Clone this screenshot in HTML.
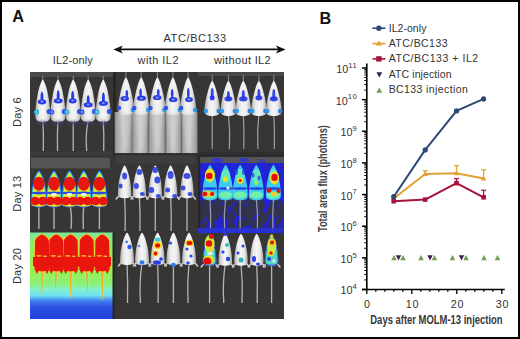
<!DOCTYPE html>
<html><head><meta charset="utf-8"><style>
html,body{margin:0;padding:0;width:520px;height:339px;overflow:hidden;background:#fff}
svg{display:block}
text{font-family:"Liberation Sans", sans-serif}
</style></head><body>
<svg width="520" height="339" viewBox="0 0 520 339">
<rect x="0" y="0" width="520" height="339" fill="#000"/>
<rect x="2" y="2" width="516" height="335" fill="#fff"/>
<text x="12.3" y="22.3" font-size="16.3" font-weight="bold" fill="#111">A</text>
<text x="319.6" y="24" font-size="16.3" font-weight="bold" fill="#111">B</text>
<text x="52.7" y="64" font-size="11" fill="#333" letter-spacing="0.15">IL2-only</text>
<text x="163.5" y="42" font-size="11" fill="#333" letter-spacing="0.6">ATC/BC133</text>
<text x="137.5" y="64.4" font-size="11" fill="#333" letter-spacing="0.45">with IL2</text>
<text x="214" y="64.4" font-size="11" fill="#333" letter-spacing="0.35">without IL2</text>
<line x1="118" y1="49.4" x2="281" y2="49.4" stroke="#111" stroke-width="1.8"/>
<path d="M113.3,49.4 L122.8,45.6 L120.5,49.4 L122.8,53.4 Z" fill="#111"/>
<path d="M285.6,49.4 L276,45.6 L278.3,49.4 L276,53.4 Z" fill="#111"/>
<text transform="translate(21.3,112) rotate(-90)" text-anchor="middle" font-size="11" fill="#333" letter-spacing="0.2">Day 6</text>
<text transform="translate(21.3,193.7) rotate(-90)" text-anchor="middle" font-size="11" fill="#333" letter-spacing="0.2">Day 13</text>
<text transform="translate(21.3,266) rotate(-90)" text-anchor="middle" font-size="11" fill="#333" letter-spacing="0.2">Day 20</text>
<defs><filter id="bl1" x="-50%" y="-50%" width="200%" height="200%"><feGaussianBlur stdDeviation="0.7"/></filter><filter id="bl2" x="-50%" y="-50%" width="200%" height="200%"><feGaussianBlur stdDeviation="1.4"/></filter><filter id="bl3" x="-50%" y="-50%" width="200%" height="200%"><feGaussianBlur stdDeviation="2.5"/></filter><linearGradient id="mouseg" x1="0" y1="0" x2="1" y2="0"><stop offset="0" stop-color="#a8a8a8"/><stop offset="0.25" stop-color="#e6e6e6"/><stop offset="0.5" stop-color="#f6f6f6"/><stop offset="0.75" stop-color="#e6e6e6"/><stop offset="1" stop-color="#a8a8a8"/></linearGradient><linearGradient id="p7bg" x1="0" y1="0" x2="0" y2="1"><stop offset="0" stop-color="#78e8a0"/><stop offset="0.12" stop-color="#88ec70"/><stop offset="0.45" stop-color="#98f050"/><stop offset="0.6" stop-color="#88f078"/><stop offset="0.66" stop-color="#80f0d0"/><stop offset="0.73" stop-color="#70e0f0"/><stop offset="0.79" stop-color="#4080f0"/><stop offset="0.86" stop-color="#2c50e0"/><stop offset="1" stop-color="#2040d8"/></linearGradient><linearGradient id="greyband" x1="0" y1="0" x2="1" y2="0"><stop offset="0" stop-color="#7a7a7a"/><stop offset="0.12" stop-color="#a4a4a4"/><stop offset="0.5" stop-color="#c6c6c6"/><stop offset="0.88" stop-color="#a4a4a4"/><stop offset="1" stop-color="#7a7a7a"/></linearGradient><clipPath id="gridclip"><rect x="30" y="72" width="254" height="247"/></clipPath><filter id="soft" x="0" y="0" width="100%" height="100%"><feGaussianBlur stdDeviation="0.35"/></filter></defs>
<g clip-path="url(#gridclip)"><g filter="url(#soft)">
<rect x="30" y="72" width="254" height="247" fill="#373636"/>
<rect x="30" y="72" width="83" height="5" fill="#4a4a4a"/>
<rect x="30" y="151.5" width="83" height="4" fill="#3a3a3a"/>
<line x1="42.8" y1="76" x2="42.8" y2="81" stroke="#8a8a8a" stroke-width="1"/>
<line x1="58.0" y1="76" x2="58.0" y2="81" stroke="#8a8a8a" stroke-width="1"/>
<line x1="73.2" y1="76" x2="73.2" y2="81" stroke="#8a8a8a" stroke-width="1"/>
<line x1="88.2" y1="76" x2="88.2" y2="81" stroke="#8a8a8a" stroke-width="1"/>
<line x1="103.2" y1="76" x2="103.2" y2="81" stroke="#8a8a8a" stroke-width="1"/>
<path d="M42.8,119.8 Q43.8,135.4 43.3,151.0" stroke="#b4b4b4" stroke-width="1.3" fill="none" opacity="1"/>
<path d="M58.0,119.8 Q57.0,135.4 57.5,151.0" stroke="#b4b4b4" stroke-width="1.3" fill="none" opacity="1"/>
<path d="M73.2,119.8 Q73.2,135.4 73.2,151.0" stroke="#b4b4b4" stroke-width="1.3" fill="none" opacity="1"/>
<path d="M88.2,119.8 Q85.2,135.4 86.7,151.0" stroke="#b4b4b4" stroke-width="1.3" fill="none" opacity="1"/>
<path d="M103.2,119.8 Q104.2,135.4 103.7,151.0" stroke="#b4b4b4" stroke-width="1.3" fill="none" opacity="1"/>
<path d="M42.3,80.0 Q42.8,79.3 43.3,80.0 Q43.8,80.8 44.4,82.2 Q45.1,83.5 45.8,85.7 Q46.5,87.8 47.1,90.3 Q47.7,92.9 48.2,95.9 Q48.8,98.8 49.2,101.8 Q49.6,104.8 49.9,107.3 Q50.2,109.9 50.3,112.0 Q50.4,114.2 50.3,115.8 Q50.2,117.5 49.8,118.7 Q49.3,119.9 48.2,120.7 Q47.0,121.6 44.9,121.7 Q42.8,121.8 40.7,121.7 Q38.6,121.6 37.4,120.7 Q36.3,119.9 35.8,118.7 Q35.4,117.5 35.3,115.8 Q35.2,114.2 35.3,112.0 Q35.4,109.9 35.7,107.3 Q36.0,104.8 36.4,101.8 Q36.8,98.8 37.4,95.9 Q37.9,92.9 38.5,90.3 Q39.1,87.8 39.8,85.7 Q40.5,83.5 41.2,82.2 Q41.8,80.8 42.3,80.0Z" fill="url(#mouseg)"/>
<path d="M57.5,80.0 Q58.0,79.3 58.5,80.0 Q59.0,80.8 59.6,82.2 Q60.3,83.5 61.0,85.7 Q61.7,87.8 62.3,90.3 Q62.9,92.9 63.4,95.9 Q64.0,98.8 64.4,101.8 Q64.8,104.8 65.1,107.3 Q65.4,109.9 65.5,112.0 Q65.6,114.2 65.5,115.8 Q65.4,117.5 65.0,118.7 Q64.5,119.9 63.4,120.7 Q62.2,121.6 60.1,121.7 Q58.0,121.8 55.9,121.7 Q53.8,121.6 52.6,120.7 Q51.5,119.9 51.0,118.7 Q50.6,117.5 50.5,115.8 Q50.4,114.2 50.5,112.0 Q50.6,109.9 50.9,107.3 Q51.2,104.8 51.6,101.8 Q52.0,98.8 52.6,95.9 Q53.1,92.9 53.7,90.3 Q54.3,87.8 55.0,85.7 Q55.7,83.5 56.4,82.2 Q57.0,80.8 57.5,80.0Z" fill="url(#mouseg)"/>
<path d="M72.7,80.0 Q73.2,79.3 73.7,80.0 Q74.2,80.8 74.8,82.2 Q75.5,83.5 76.2,85.7 Q76.9,87.8 77.5,90.3 Q78.1,92.9 78.6,95.9 Q79.2,98.8 79.6,101.8 Q80.0,104.8 80.3,107.3 Q80.6,109.9 80.7,112.0 Q80.8,114.2 80.7,115.8 Q80.6,117.5 80.2,118.7 Q79.7,119.9 78.6,120.7 Q77.4,121.6 75.3,121.7 Q73.2,121.8 71.1,121.7 Q69.0,121.6 67.8,120.7 Q66.7,119.9 66.2,118.7 Q65.8,117.5 65.7,115.8 Q65.6,114.2 65.7,112.0 Q65.8,109.9 66.1,107.3 Q66.4,104.8 66.8,101.8 Q67.2,98.8 67.8,95.9 Q68.3,92.9 68.9,90.3 Q69.5,87.8 70.2,85.7 Q70.9,83.5 71.6,82.2 Q72.2,80.8 72.7,80.0Z" fill="url(#mouseg)"/>
<path d="M87.7,80.0 Q88.2,79.3 88.7,80.0 Q89.2,80.8 89.8,82.2 Q90.5,83.5 91.2,85.7 Q91.9,87.8 92.5,90.3 Q93.1,92.9 93.6,95.9 Q94.2,98.8 94.6,101.8 Q95.0,104.8 95.3,107.3 Q95.6,109.9 95.7,112.0 Q95.8,114.2 95.7,115.8 Q95.6,117.5 95.2,118.7 Q94.7,119.9 93.6,120.7 Q92.4,121.6 90.3,121.7 Q88.2,121.8 86.1,121.7 Q84.0,121.6 82.8,120.7 Q81.7,119.9 81.2,118.7 Q80.8,117.5 80.7,115.8 Q80.6,114.2 80.7,112.0 Q80.8,109.9 81.1,107.3 Q81.4,104.8 81.8,101.8 Q82.2,98.8 82.8,95.9 Q83.3,92.9 83.9,90.3 Q84.5,87.8 85.2,85.7 Q85.9,83.5 86.6,82.2 Q87.2,80.8 87.7,80.0Z" fill="url(#mouseg)"/>
<path d="M102.7,80.0 Q103.2,79.3 103.7,80.0 Q104.2,80.8 104.8,82.2 Q105.5,83.5 106.2,85.7 Q106.9,87.8 107.5,90.3 Q108.1,92.9 108.6,95.9 Q109.2,98.8 109.6,101.8 Q110.0,104.8 110.3,107.3 Q110.6,109.9 110.7,112.0 Q110.8,114.2 110.7,115.8 Q110.6,117.5 110.2,118.7 Q109.7,119.9 108.6,120.7 Q107.4,121.6 105.3,121.7 Q103.2,121.8 101.1,121.7 Q99.0,121.6 97.8,120.7 Q96.7,119.9 96.2,118.7 Q95.8,117.5 95.7,115.8 Q95.6,114.2 95.7,112.0 Q95.8,109.9 96.1,107.3 Q96.4,104.8 96.8,101.8 Q97.2,98.8 97.8,95.9 Q98.3,92.9 98.9,90.3 Q99.5,87.8 100.2,85.7 Q100.9,83.5 101.6,82.2 Q102.2,80.8 102.7,80.0Z" fill="url(#mouseg)"/>
<ellipse cx="42.0" cy="97.2" rx="1.5" ry="5.75" fill="#2236e4" opacity="0.95" filter="url(#bl1)"/>
<ellipse cx="42.0" cy="101.8" rx="4.25" ry="2.6" fill="#2236e4" opacity="0.95" filter="url(#bl1)"/>
<ellipse cx="42.0" cy="101.6" rx="1.4" ry="1.0" fill="#9ab8f0" opacity="0.8" filter="url(#bl1)"/>
<ellipse cx="36.5" cy="112.0" rx="2.6" ry="2.6" fill="#28b0d8" opacity="0.95" filter="url(#bl1)"/>
<ellipse cx="49.1" cy="111.5" rx="2.6" ry="2.6" fill="#2a4ee8" opacity="0.95" filter="url(#bl1)"/>
<ellipse cx="36.5" cy="112.0" rx="1.0" ry="1.0" fill="#a0d8f0" opacity="0.8" filter="url(#bl1)"/>
<ellipse cx="42.8" cy="123.0" rx="6" ry="2.2" fill="#404070" opacity="0.6" filter="url(#bl2)"/>
<ellipse cx="58.2" cy="96.0" rx="1.5" ry="6.0" fill="#2236e4" opacity="0.95" filter="url(#bl1)"/>
<ellipse cx="58.2" cy="100.8" rx="4.5" ry="2.6" fill="#2236e4" opacity="0.95" filter="url(#bl1)"/>
<ellipse cx="58.2" cy="100.6" rx="1.4" ry="1.0" fill="#9ab8f0" opacity="0.8" filter="url(#bl1)"/>
<ellipse cx="51.7" cy="112.0" rx="2.6" ry="2.6" fill="#2a4ee8" opacity="0.95" filter="url(#bl1)"/>
<ellipse cx="64.3" cy="111.5" rx="2.6" ry="2.6" fill="#2a4ee8" opacity="0.95" filter="url(#bl1)"/>
<ellipse cx="51.7" cy="112.0" rx="1.0" ry="1.0" fill="#a0d8f0" opacity="0.8" filter="url(#bl1)"/>
<ellipse cx="58.0" cy="123.0" rx="6" ry="2.2" fill="#404070" opacity="0.6" filter="url(#bl2)"/>
<ellipse cx="72.7" cy="96.3" rx="1.5" ry="5.649999999999999" fill="#2236e4" opacity="0.95" filter="url(#bl1)"/>
<ellipse cx="72.7" cy="100.8" rx="4.0" ry="2.6" fill="#2236e4" opacity="0.95" filter="url(#bl1)"/>
<ellipse cx="72.7" cy="100.6" rx="1.4" ry="1.0" fill="#9ab8f0" opacity="0.8" filter="url(#bl1)"/>
<ellipse cx="66.9" cy="112.0" rx="2.6" ry="2.6" fill="#28b0d8" opacity="0.95" filter="url(#bl1)"/>
<ellipse cx="79.5" cy="111.5" rx="2.6" ry="2.6" fill="#2a4ee8" opacity="0.95" filter="url(#bl1)"/>
<ellipse cx="66.9" cy="112.0" rx="1.0" ry="1.0" fill="#a0d8f0" opacity="0.8" filter="url(#bl1)"/>
<ellipse cx="73.2" cy="123.0" rx="6" ry="2.2" fill="#404070" opacity="0.6" filter="url(#bl2)"/>
<ellipse cx="88.2" cy="100.7" rx="1.5" ry="5.350000000000001" fill="#2236e4" opacity="0.95" filter="url(#bl1)"/>
<ellipse cx="88.2" cy="104.8" rx="4.5" ry="2.6" fill="#2236e4" opacity="0.95" filter="url(#bl1)"/>
<ellipse cx="88.2" cy="104.6" rx="1.4" ry="1.0" fill="#9ab8f0" opacity="0.8" filter="url(#bl1)"/>
<ellipse cx="81.9" cy="112.0" rx="2.6" ry="2.6" fill="#2a4ee8" opacity="0.95" filter="url(#bl1)"/>
<ellipse cx="94.5" cy="111.5" rx="2.6" ry="2.6" fill="#2a4ee8" opacity="0.95" filter="url(#bl1)"/>
<ellipse cx="81.9" cy="112.0" rx="1.0" ry="1.0" fill="#a0d8f0" opacity="0.8" filter="url(#bl1)"/>
<ellipse cx="88.2" cy="123.0" rx="6" ry="2.2" fill="#404070" opacity="0.6" filter="url(#bl2)"/>
<ellipse cx="103.4" cy="98.3" rx="1.5" ry="6.149999999999999" fill="#2236e4" opacity="0.95" filter="url(#bl1)"/>
<ellipse cx="103.4" cy="103.3" rx="4.5" ry="2.6" fill="#2236e4" opacity="0.95" filter="url(#bl1)"/>
<ellipse cx="103.4" cy="103.1" rx="1.4" ry="1.0" fill="#9ab8f0" opacity="0.8" filter="url(#bl1)"/>
<ellipse cx="96.9" cy="112.0" rx="2.6" ry="2.6" fill="#28b0d8" opacity="0.95" filter="url(#bl1)"/>
<ellipse cx="109.5" cy="111.5" rx="2.6" ry="2.6" fill="#2a4ee8" opacity="0.95" filter="url(#bl1)"/>
<ellipse cx="96.9" cy="112.0" rx="1.0" ry="1.0" fill="#a0d8f0" opacity="0.8" filter="url(#bl1)"/>
<ellipse cx="103.2" cy="123.0" rx="6" ry="2.2" fill="#404070" opacity="0.6" filter="url(#bl2)"/>
<rect x="113" y="72" width="3" height="83" fill="#252525"/>
<line x1="125.9" y1="72" x2="125.9" y2="78" stroke="#8a8a8a" stroke-width="1"/>
<line x1="141.2" y1="72" x2="141.2" y2="78" stroke="#8a8a8a" stroke-width="1"/>
<line x1="157.4" y1="72" x2="157.4" y2="78" stroke="#8a8a8a" stroke-width="1"/>
<line x1="172.9" y1="72" x2="172.9" y2="78" stroke="#8a8a8a" stroke-width="1"/>
<line x1="188.1" y1="72" x2="188.1" y2="78" stroke="#8a8a8a" stroke-width="1"/>
<rect x="114.5" y="112" width="17.5" height="41.3" fill="url(#greyband)"/>
<rect x="132.0" y="112" width="16.4" height="41.3" fill="url(#greyband)"/>
<rect x="148.4" y="112" width="16.9" height="41.3" fill="url(#greyband)"/>
<rect x="165.3" y="112" width="16.1" height="41.3" fill="url(#greyband)"/>
<rect x="181.4" y="112" width="16.2" height="41.3" fill="url(#greyband)"/>
<rect x="113" y="153.3" width="85" height="2" fill="#2a2a2a"/>
<path d="M125.4,77.8 Q125.9,77.0 126.4,77.8 Q126.9,78.5 127.4,79.7 Q128.0,80.8 128.6,82.7 Q129.3,84.6 129.9,86.9 Q130.5,89.2 131.2,91.8 Q131.8,94.5 132.3,97.1 Q132.9,99.8 133.2,102.1 Q133.6,104.4 133.7,106.3 Q133.9,108.2 133.8,109.7 Q133.7,111.2 133.2,112.2 Q132.8,113.3 131.5,114.0 Q130.3,114.8 128.1,114.9 Q125.9,115.0 123.7,114.9 Q121.5,114.8 120.3,114.0 Q119.0,113.3 118.6,112.2 Q118.1,111.2 118.0,109.7 Q117.9,108.2 118.1,106.3 Q118.2,104.4 118.6,102.1 Q118.9,99.8 119.5,97.1 Q120.0,94.5 120.6,91.8 Q121.3,89.2 121.9,86.9 Q122.5,84.6 123.2,82.7 Q123.8,80.8 124.4,79.7 Q124.9,78.5 125.4,77.8Z" fill="url(#mouseg)"/>
<path d="M140.7,77.8 Q141.2,77.0 141.7,77.8 Q142.2,78.5 142.7,79.7 Q143.3,80.8 143.9,82.7 Q144.6,84.6 145.2,86.9 Q145.8,89.2 146.5,91.8 Q147.1,94.5 147.6,97.1 Q148.2,99.8 148.5,102.1 Q148.9,104.4 149.0,106.3 Q149.2,108.2 149.1,109.7 Q149.0,111.2 148.5,112.2 Q148.1,113.3 146.8,114.0 Q145.6,114.8 143.4,114.9 Q141.2,115.0 139.0,114.9 Q136.8,114.8 135.6,114.0 Q134.3,113.3 133.9,112.2 Q133.4,111.2 133.3,109.7 Q133.2,108.2 133.4,106.3 Q133.5,104.4 133.9,102.1 Q134.2,99.8 134.8,97.1 Q135.3,94.5 135.9,91.8 Q136.6,89.2 137.2,86.9 Q137.8,84.6 138.5,82.7 Q139.1,80.8 139.7,79.7 Q140.2,78.5 140.7,77.8Z" fill="url(#mouseg)"/>
<path d="M156.9,77.8 Q157.4,77.0 157.9,77.8 Q158.4,78.5 158.9,79.7 Q159.5,80.8 160.1,82.7 Q160.8,84.6 161.4,86.9 Q162.0,89.2 162.7,91.8 Q163.3,94.5 163.8,97.1 Q164.4,99.8 164.7,102.1 Q165.1,104.4 165.2,106.3 Q165.4,108.2 165.3,109.7 Q165.2,111.2 164.7,112.2 Q164.3,113.3 163.0,114.0 Q161.8,114.8 159.6,114.9 Q157.4,115.0 155.2,114.9 Q153.0,114.8 151.8,114.0 Q150.5,113.3 150.1,112.2 Q149.6,111.2 149.5,109.7 Q149.4,108.2 149.6,106.3 Q149.7,104.4 150.1,102.1 Q150.4,99.8 151.0,97.1 Q151.5,94.5 152.1,91.8 Q152.8,89.2 153.4,86.9 Q154.0,84.6 154.7,82.7 Q155.3,80.8 155.9,79.7 Q156.4,78.5 156.9,77.8Z" fill="url(#mouseg)"/>
<path d="M172.4,77.8 Q172.9,77.0 173.4,77.8 Q173.9,78.5 174.4,79.7 Q175.0,80.8 175.6,82.7 Q176.3,84.6 176.9,86.9 Q177.5,89.2 178.2,91.8 Q178.8,94.5 179.3,97.1 Q179.9,99.8 180.2,102.1 Q180.6,104.4 180.7,106.3 Q180.9,108.2 180.8,109.7 Q180.7,111.2 180.2,112.2 Q179.8,113.3 178.5,114.0 Q177.3,114.8 175.1,114.9 Q172.9,115.0 170.7,114.9 Q168.5,114.8 167.3,114.0 Q166.0,113.3 165.6,112.2 Q165.1,111.2 165.0,109.7 Q164.9,108.2 165.1,106.3 Q165.2,104.4 165.6,102.1 Q165.9,99.8 166.5,97.1 Q167.0,94.5 167.6,91.8 Q168.3,89.2 168.9,86.9 Q169.5,84.6 170.2,82.7 Q170.8,80.8 171.4,79.7 Q171.9,78.5 172.4,77.8Z" fill="url(#mouseg)"/>
<path d="M187.6,77.8 Q188.1,77.0 188.6,77.8 Q189.1,78.5 189.6,79.7 Q190.2,80.8 190.8,82.7 Q191.5,84.6 192.1,86.9 Q192.7,89.2 193.4,91.8 Q194.0,94.5 194.5,97.1 Q195.1,99.8 195.4,102.1 Q195.8,104.4 195.9,106.3 Q196.1,108.2 196.0,109.7 Q195.9,111.2 195.4,112.2 Q195.0,113.3 193.7,114.0 Q192.5,114.8 190.3,114.9 Q188.1,115.0 185.9,114.9 Q183.7,114.8 182.5,114.0 Q181.2,113.3 180.8,112.2 Q180.3,111.2 180.2,109.7 Q180.1,108.2 180.3,106.3 Q180.4,104.4 180.8,102.1 Q181.1,99.8 181.7,97.1 Q182.2,94.5 182.8,91.8 Q183.5,89.2 184.1,86.9 Q184.7,84.6 185.4,82.7 Q186.0,80.8 186.6,79.7 Q187.1,78.5 187.6,77.8Z" fill="url(#mouseg)"/>
<path d="M119.9,112 L131.9,112 L127.9,150 L123.9,150 Z" fill="#d8d8d8" opacity="0.5" filter="url(#bl2)"/>
<path d="M135.2,112 L147.2,112 L143.2,150 L139.2,150 Z" fill="#d8d8d8" opacity="0.5" filter="url(#bl2)"/>
<path d="M151.4,112 L163.4,112 L159.4,150 L155.4,150 Z" fill="#d8d8d8" opacity="0.5" filter="url(#bl2)"/>
<path d="M166.9,112 L178.9,112 L174.9,150 L170.9,150 Z" fill="#d8d8d8" opacity="0.5" filter="url(#bl2)"/>
<path d="M182.1,112 L194.1,112 L190.1,150 L186.1,150 Z" fill="#d8d8d8" opacity="0.5" filter="url(#bl2)"/>
<ellipse cx="126.8" cy="93.8" rx="1.3" ry="3.799999999999997" fill="#2236e4" opacity="0.95" filter="url(#bl1)"/>
<ellipse cx="124.8" cy="98.6" rx="4.2" ry="2.6" fill="#2236e4" opacity="0.95" filter="url(#bl1)"/>
<ellipse cx="124.8" cy="98.6" rx="1.6" ry="1.0" fill="#8ab0f0" opacity="0.8" filter="url(#bl1)"/>
<ellipse cx="140.6" cy="92.8" rx="1.3" ry="4.399999999999999" fill="#2236e4" opacity="0.95" filter="url(#bl1)"/>
<ellipse cx="141.4" cy="98.2" rx="4.5" ry="2.6" fill="#2236e4" opacity="0.95" filter="url(#bl1)"/>
<ellipse cx="141.4" cy="98.2" rx="1.6" ry="1.0" fill="#8ab0f0" opacity="0.8" filter="url(#bl1)"/>
<ellipse cx="158.3" cy="92.8" rx="1.3" ry="3.75" fill="#2236e4" opacity="0.95" filter="url(#bl1)"/>
<ellipse cx="157.2" cy="97.5" rx="4.25" ry="2.6" fill="#2236e4" opacity="0.95" filter="url(#bl1)"/>
<ellipse cx="157.2" cy="97.5" rx="1.6" ry="1.0" fill="#8ab0f0" opacity="0.8" filter="url(#bl1)"/>
<ellipse cx="172.2" cy="93.8" rx="1.3" ry="4.75" fill="#2236e4" opacity="0.95" filter="url(#bl1)"/>
<ellipse cx="173.2" cy="99.5" rx="4.25" ry="2.6" fill="#2236e4" opacity="0.95" filter="url(#bl1)"/>
<ellipse cx="173.2" cy="99.5" rx="1.6" ry="1.0" fill="#8ab0f0" opacity="0.8" filter="url(#bl1)"/>
<ellipse cx="188.3" cy="93.2" rx="1.3" ry="5.25" fill="#2236e4" opacity="0.95" filter="url(#bl1)"/>
<ellipse cx="189.0" cy="99.5" rx="3.85" ry="2.6" fill="#2236e4" opacity="0.95" filter="url(#bl1)"/>
<ellipse cx="189.0" cy="99.5" rx="1.6" ry="1.0" fill="#8ab0f0" opacity="0.8" filter="url(#bl1)"/>
<ellipse cx="118.9" cy="108.0" rx="2.3" ry="2.3" fill="#2a50e8" opacity="0.95" filter="url(#bl1)"/>
<ellipse cx="132.9" cy="110.0" rx="2.3" ry="2.3" fill="#2a9ae8" opacity="0.95" filter="url(#bl1)"/>
<ellipse cx="134.2" cy="108.0" rx="2.3" ry="2.3" fill="#2a50e8" opacity="0.95" filter="url(#bl1)"/>
<ellipse cx="148.2" cy="110.0" rx="2.3" ry="2.3" fill="#2a9ae8" opacity="0.95" filter="url(#bl1)"/>
<ellipse cx="150.4" cy="108.0" rx="2.3" ry="2.3" fill="#2a50e8" opacity="0.95" filter="url(#bl1)"/>
<ellipse cx="164.4" cy="110.0" rx="2.3" ry="2.3" fill="#2a9ae8" opacity="0.95" filter="url(#bl1)"/>
<ellipse cx="165.9" cy="108.0" rx="2.3" ry="2.3" fill="#2a50e8" opacity="0.95" filter="url(#bl1)"/>
<ellipse cx="179.9" cy="110.0" rx="2.3" ry="2.3" fill="#2a9ae8" opacity="0.95" filter="url(#bl1)"/>
<ellipse cx="181.1" cy="108.0" rx="2.3" ry="2.3" fill="#2a50e8" opacity="0.95" filter="url(#bl1)"/>
<ellipse cx="195.1" cy="110.0" rx="2.3" ry="2.3" fill="#2a9ae8" opacity="0.95" filter="url(#bl1)"/>
<rect x="198" y="72" width="86" height="4" fill="#484848"/>
<line x1="212.2" y1="75" x2="212.2" y2="81" stroke="#8a8a8a" stroke-width="1"/>
<line x1="228.4" y1="75" x2="228.4" y2="81" stroke="#8a8a8a" stroke-width="1"/>
<line x1="243.3" y1="75" x2="243.3" y2="81" stroke="#8a8a8a" stroke-width="1"/>
<line x1="258.9" y1="75" x2="258.9" y2="81" stroke="#8a8a8a" stroke-width="1"/>
<line x1="273.8" y1="75" x2="273.8" y2="81" stroke="#8a8a8a" stroke-width="1"/>
<path d="M212.2,114.0 Q212.2,131.5 212.2,149.0" stroke="#a0a0a0" stroke-width="1.2" fill="none" opacity="1"/>
<path d="M228.4,114.0 Q230.4,131.5 229.4,149.0" stroke="#a0a0a0" stroke-width="1.2" fill="none" opacity="1"/>
<path d="M243.3,114.0 Q244.3,131.5 243.8,149.0" stroke="#a0a0a0" stroke-width="1.2" fill="none" opacity="1"/>
<path d="M258.9,114.0 Q256.9,131.5 257.9,149.0" stroke="#a0a0a0" stroke-width="1.2" fill="none" opacity="1"/>
<path d="M273.8,114.0 Q274.8,131.5 274.3,149.0" stroke="#a0a0a0" stroke-width="1.2" fill="none" opacity="1"/>
<path d="M211.7,81.2 Q212.2,80.5 212.7,81.2 Q213.1,81.9 213.7,83.0 Q214.2,84.0 214.9,85.8 Q215.5,87.6 216.1,89.7 Q216.7,91.9 217.3,94.3 Q218.0,96.8 218.5,99.3 Q219.0,101.8 219.3,103.9 Q219.7,106.1 219.8,107.8 Q220.0,109.6 219.9,111.0 Q219.8,112.5 219.3,113.4 Q218.9,114.4 217.7,115.1 Q216.5,115.8 214.3,115.9 Q212.2,116.0 210.1,115.9 Q207.9,115.8 206.7,115.1 Q205.5,114.4 205.1,113.4 Q204.6,112.5 204.5,111.0 Q204.4,109.6 204.6,107.8 Q204.7,106.1 205.1,103.9 Q205.4,101.8 205.9,99.3 Q206.4,96.8 207.1,94.3 Q207.7,91.9 208.3,89.7 Q208.9,87.6 209.5,85.8 Q210.2,84.0 210.7,83.0 Q211.3,81.9 211.7,81.2Z" fill="url(#mouseg)"/>
<path d="M227.9,81.2 Q228.4,80.5 228.9,81.2 Q229.3,81.9 229.9,83.0 Q230.4,84.0 231.1,85.8 Q231.7,87.6 232.3,89.7 Q232.9,91.9 233.5,94.3 Q234.2,96.8 234.7,99.3 Q235.2,101.8 235.5,103.9 Q235.9,106.1 236.0,107.8 Q236.2,109.6 236.1,111.0 Q236.0,112.5 235.5,113.4 Q235.1,114.4 233.9,115.1 Q232.7,115.8 230.5,115.9 Q228.4,116.0 226.3,115.9 Q224.1,115.8 222.9,115.1 Q221.7,114.4 221.3,113.4 Q220.8,112.5 220.7,111.0 Q220.6,109.6 220.8,107.8 Q220.9,106.1 221.3,103.9 Q221.6,101.8 222.1,99.3 Q222.6,96.8 223.3,94.3 Q223.9,91.9 224.5,89.7 Q225.1,87.6 225.7,85.8 Q226.4,84.0 226.9,83.0 Q227.5,81.9 227.9,81.2Z" fill="url(#mouseg)"/>
<path d="M242.8,81.2 Q243.3,80.5 243.8,81.2 Q244.2,81.9 244.8,83.0 Q245.3,84.0 246.0,85.8 Q246.6,87.6 247.2,89.7 Q247.8,91.9 248.4,94.3 Q249.1,96.8 249.6,99.3 Q250.1,101.8 250.4,103.9 Q250.8,106.1 250.9,107.8 Q251.1,109.6 251.0,111.0 Q250.9,112.5 250.4,113.4 Q250.0,114.4 248.8,115.1 Q247.6,115.8 245.4,115.9 Q243.3,116.0 241.2,115.9 Q239.0,115.8 237.8,115.1 Q236.6,114.4 236.2,113.4 Q235.7,112.5 235.6,111.0 Q235.5,109.6 235.7,107.8 Q235.8,106.1 236.2,103.9 Q236.5,101.8 237.0,99.3 Q237.5,96.8 238.2,94.3 Q238.8,91.9 239.4,89.7 Q240.0,87.6 240.6,85.8 Q241.3,84.0 241.8,83.0 Q242.4,81.9 242.8,81.2Z" fill="url(#mouseg)"/>
<path d="M258.4,81.2 Q258.9,80.5 259.4,81.2 Q259.8,81.9 260.4,83.0 Q260.9,84.0 261.6,85.8 Q262.2,87.6 262.8,89.7 Q263.4,91.9 264.0,94.3 Q264.7,96.8 265.2,99.3 Q265.7,101.8 266.0,103.9 Q266.4,106.1 266.5,107.8 Q266.7,109.6 266.6,111.0 Q266.5,112.5 266.0,113.4 Q265.6,114.4 264.4,115.1 Q263.2,115.8 261.0,115.9 Q258.9,116.0 256.8,115.9 Q254.6,115.8 253.4,115.1 Q252.2,114.4 251.8,113.4 Q251.3,112.5 251.2,111.0 Q251.1,109.6 251.3,107.8 Q251.4,106.1 251.8,103.9 Q252.1,101.8 252.6,99.3 Q253.1,96.8 253.8,94.3 Q254.4,91.9 255.0,89.7 Q255.6,87.6 256.2,85.8 Q256.9,84.0 257.4,83.0 Q258.0,81.9 258.4,81.2Z" fill="url(#mouseg)"/>
<path d="M273.3,81.2 Q273.8,80.5 274.3,81.2 Q274.7,81.9 275.3,83.0 Q275.8,84.0 276.5,85.8 Q277.1,87.6 277.7,89.7 Q278.3,91.9 278.9,94.3 Q279.6,96.8 280.1,99.3 Q280.6,101.8 280.9,103.9 Q281.3,106.1 281.4,107.8 Q281.6,109.6 281.5,111.0 Q281.4,112.5 280.9,113.4 Q280.5,114.4 279.3,115.1 Q278.1,115.8 275.9,115.9 Q273.8,116.0 271.7,115.9 Q269.5,115.8 268.3,115.1 Q267.1,114.4 266.7,113.4 Q266.2,112.5 266.1,111.0 Q266.0,109.6 266.2,107.8 Q266.3,106.1 266.7,103.9 Q267.0,101.8 267.5,99.3 Q268.0,96.8 268.7,94.3 Q269.3,91.9 269.9,89.7 Q270.5,87.6 271.1,85.8 Q271.8,84.0 272.3,83.0 Q272.9,81.9 273.3,81.2Z" fill="url(#mouseg)"/>
<ellipse cx="212.2" cy="93.5" rx="1.5" ry="5.5" fill="#2236e4" opacity="0.9" filter="url(#bl1)"/>
<ellipse cx="212.2" cy="97.8" rx="2.5" ry="2.6" fill="#2236e4" opacity="0.9" filter="url(#bl1)"/>
<ellipse cx="205.7" cy="111.0" rx="2.3" ry="2.3" fill="#2a9ae8" opacity="0.95" filter="url(#bl1)"/>
<ellipse cx="218.7" cy="111.0" rx="2.3" ry="2.3" fill="#2a7ae8" opacity="0.95" filter="url(#bl1)"/>
<ellipse cx="228.4" cy="95.5" rx="1.5" ry="4.5" fill="#2236e4" opacity="0.9" filter="url(#bl1)"/>
<ellipse cx="228.4" cy="98.8" rx="4.0" ry="2.6" fill="#2236e4" opacity="0.9" filter="url(#bl1)"/>
<ellipse cx="221.9" cy="111.0" rx="2.3" ry="2.3" fill="#2a9ae8" opacity="0.95" filter="url(#bl1)"/>
<ellipse cx="234.9" cy="111.0" rx="2.3" ry="2.3" fill="#2a7ae8" opacity="0.95" filter="url(#bl1)"/>
<ellipse cx="243.3" cy="95.0" rx="1.5" ry="5.0" fill="#2236e4" opacity="0.9" filter="url(#bl1)"/>
<ellipse cx="243.3" cy="98.8" rx="4.25" ry="2.6" fill="#2236e4" opacity="0.9" filter="url(#bl1)"/>
<ellipse cx="236.8" cy="111.0" rx="2.3" ry="2.3" fill="#2a9ae8" opacity="0.95" filter="url(#bl1)"/>
<ellipse cx="249.8" cy="111.0" rx="2.3" ry="2.3" fill="#2a7ae8" opacity="0.95" filter="url(#bl1)"/>
<ellipse cx="258.9" cy="94.0" rx="1.5" ry="5.0" fill="#2236e4" opacity="0.9" filter="url(#bl1)"/>
<ellipse cx="258.9" cy="97.8" rx="3.5" ry="2.6" fill="#2236e4" opacity="0.9" filter="url(#bl1)"/>
<ellipse cx="252.4" cy="111.0" rx="2.3" ry="2.3" fill="#2a9ae8" opacity="0.95" filter="url(#bl1)"/>
<ellipse cx="265.4" cy="111.0" rx="2.3" ry="2.3" fill="#2a7ae8" opacity="0.95" filter="url(#bl1)"/>
<ellipse cx="273.8" cy="94.5" rx="1.5" ry="5.5" fill="#2236e4" opacity="0.9" filter="url(#bl1)"/>
<ellipse cx="273.8" cy="98.8" rx="4.0" ry="2.6" fill="#2236e4" opacity="0.9" filter="url(#bl1)"/>
<ellipse cx="267.3" cy="111.0" rx="2.3" ry="2.3" fill="#2a9ae8" opacity="0.95" filter="url(#bl1)"/>
<ellipse cx="280.3" cy="111.0" rx="2.3" ry="2.3" fill="#2a7ae8" opacity="0.95" filter="url(#bl1)"/>
<rect x="200" y="152" width="84" height="3" fill="#2e2e2e"/>
<rect x="31" y="157.8" width="79" height="10.6" fill="#555"/>
<path d="M38.9,203.0 Q38.9,216.0 38.9,229.0" stroke="#b0b0b0" stroke-width="1.4" fill="none" opacity="1"/>
<path d="M54.0,203.0 Q54.0,216.0 54.0,229.0" stroke="#b0b0b0" stroke-width="1.4" fill="none" opacity="1"/>
<path d="M69.5,203.0 Q72.5,216.0 71.0,229.0" stroke="#b0b0b0" stroke-width="1.4" fill="none" opacity="1"/>
<path d="M83.8,203.0 Q82.8,216.0 83.3,229.0" stroke="#b0b0b0" stroke-width="1.4" fill="none" opacity="1"/>
<path d="M99.4,203.0 Q99.4,216.0 99.4,229.0" stroke="#b0b0b0" stroke-width="1.4" fill="none" opacity="1"/>
<path d="M38.3,170.7 Q38.9,170.0 39.5,170.7 Q40.1,171.3 40.9,172.5 Q41.8,173.8 42.6,175.6 Q43.5,177.5 44.1,179.8 Q44.8,182.0 45.3,184.6 Q45.9,187.2 46.2,189.9 Q46.6,192.5 46.9,194.8 Q47.1,197.0 47.2,198.9 Q47.3,200.8 47.2,202.2 Q47.0,203.8 46.6,204.8 Q46.1,205.8 44.8,206.6 Q43.5,207.3 41.2,207.4 Q38.9,207.5 36.6,207.4 Q34.3,207.3 33.0,206.6 Q31.7,205.8 31.2,204.8 Q30.8,203.8 30.6,202.2 Q30.5,200.8 30.6,198.9 Q30.7,197.0 30.9,194.8 Q31.2,192.5 31.5,189.9 Q31.9,187.2 32.5,184.6 Q33.0,182.0 33.6,179.8 Q34.3,177.5 35.2,175.6 Q36.0,173.8 36.9,172.5 Q37.7,171.3 38.3,170.7Z" fill="#2848e0"/>
<path d="M38.4,171.6 Q38.9,171.0 39.4,171.6 Q39.9,172.2 40.7,173.3 Q41.4,174.5 42.2,176.2 Q43.0,178.0 43.5,180.0 Q44.1,182.1 44.6,184.6 Q45.0,187.0 45.4,189.4 Q45.7,191.9 45.9,194.0 Q46.2,196.1 46.2,197.8 Q46.3,199.5 46.2,200.9 Q46.1,202.3 45.7,203.3 Q45.3,204.2 44.1,204.9 Q43.0,205.6 40.9,205.7 Q38.9,205.8 36.9,205.7 Q34.8,205.6 33.7,204.9 Q32.5,204.2 32.1,203.3 Q31.7,202.3 31.6,200.9 Q31.5,199.5 31.6,197.8 Q31.6,196.1 31.9,194.0 Q32.1,191.9 32.4,189.4 Q32.8,187.0 33.2,184.6 Q33.7,182.1 34.3,180.0 Q34.8,178.0 35.6,176.2 Q36.4,174.5 37.1,173.3 Q37.9,172.2 38.4,171.6Z" fill="#40d8c8" filter="url(#bl1)"/>
<path d="M38.5,173.1 Q38.9,172.5 39.3,173.1 Q39.8,173.6 40.4,174.7 Q41.0,175.8 41.7,177.4 Q42.4,179.0 42.8,180.9 Q43.3,182.9 43.7,185.2 Q44.1,187.4 44.4,189.7 Q44.7,192.0 44.9,193.9 Q45.1,195.9 45.1,197.5 Q45.2,199.2 45.1,200.4 Q45.0,201.8 44.7,202.6 Q44.3,203.5 43.3,204.2 Q42.4,204.8 40.6,204.9 Q38.9,205.0 37.2,204.9 Q35.4,204.8 34.5,204.2 Q33.5,203.5 33.1,202.6 Q32.8,201.8 32.7,200.4 Q32.6,199.2 32.7,197.5 Q32.7,195.9 32.9,193.9 Q33.1,192.0 33.4,189.7 Q33.7,187.4 34.1,185.2 Q34.5,182.9 35.0,180.9 Q35.4,179.0 36.1,177.4 Q36.8,175.8 37.4,174.7 Q38.0,173.6 38.5,173.1Z" fill="#d8f030" filter="url(#bl1)"/>
<ellipse cx="38.9" cy="183.8" rx="5.8" ry="7.0" fill="#e8140c" opacity="1" filter="url(#bl1)"/>
<ellipse cx="38.9" cy="193.0" rx="7.8" ry="1.5" fill="#2a48e0" opacity="1" filter="url(#bl1)"/>
<ellipse cx="38.9" cy="204.5" rx="7.5" ry="2.2" fill="#e0e830" opacity="1" filter="url(#bl1)"/>
<ellipse cx="35.1" cy="201.0" rx="4.8" ry="4.2" fill="#e8140c" opacity="1" filter="url(#bl1)"/>
<ellipse cx="42.7" cy="201.0" rx="4.8" ry="4.2" fill="#e8140c" opacity="1" filter="url(#bl1)"/>
<path d="M53.4,170.7 Q54.0,170.0 54.6,170.7 Q55.2,171.3 56.0,172.5 Q56.9,173.8 57.7,175.6 Q58.6,177.5 59.2,179.8 Q59.9,182.0 60.4,184.6 Q61.0,187.2 61.4,189.9 Q61.7,192.5 62.0,194.8 Q62.2,197.0 62.3,198.9 Q62.4,200.8 62.3,202.2 Q62.1,203.8 61.7,204.8 Q61.2,205.8 59.9,206.6 Q58.6,207.3 56.3,207.4 Q54.0,207.5 51.7,207.4 Q49.4,207.3 48.1,206.6 Q46.8,205.8 46.3,204.8 Q45.9,203.8 45.7,202.2 Q45.6,200.8 45.7,198.9 Q45.8,197.0 46.0,194.8 Q46.3,192.5 46.6,189.9 Q47.0,187.2 47.6,184.6 Q48.1,182.0 48.8,179.8 Q49.4,177.5 50.3,175.6 Q51.1,173.8 52.0,172.5 Q52.8,171.3 53.4,170.7Z" fill="#2848e0"/>
<path d="M53.5,171.6 Q54.0,171.0 54.5,171.6 Q55.0,172.2 55.8,173.3 Q56.5,174.5 57.3,176.2 Q58.1,178.0 58.6,180.0 Q59.2,182.1 59.7,184.6 Q60.1,187.0 60.5,189.4 Q60.8,191.9 61.0,194.0 Q61.3,196.1 61.3,197.8 Q61.4,199.5 61.3,200.9 Q61.2,202.3 60.8,203.3 Q60.4,204.2 59.2,204.9 Q58.1,205.6 56.0,205.7 Q54.0,205.8 52.0,205.7 Q49.9,205.6 48.8,204.9 Q47.6,204.2 47.2,203.3 Q46.8,202.3 46.7,200.9 Q46.6,199.5 46.7,197.8 Q46.7,196.1 47.0,194.0 Q47.2,191.9 47.5,189.4 Q47.9,187.0 48.3,184.6 Q48.8,182.1 49.4,180.0 Q49.9,178.0 50.7,176.2 Q51.5,174.5 52.2,173.3 Q53.0,172.2 53.5,171.6Z" fill="#40d8c8" filter="url(#bl1)"/>
<path d="M53.6,173.1 Q54.0,172.5 54.4,173.1 Q54.9,173.6 55.5,174.7 Q56.1,175.8 56.8,177.4 Q57.5,179.0 57.9,180.9 Q58.4,182.9 58.8,185.2 Q59.2,187.4 59.5,189.7 Q59.8,192.0 60.0,193.9 Q60.2,195.9 60.2,197.5 Q60.3,199.2 60.2,200.4 Q60.1,201.8 59.8,202.6 Q59.4,203.5 58.4,204.2 Q57.5,204.8 55.7,204.9 Q54.0,205.0 52.3,204.9 Q50.5,204.8 49.6,204.2 Q48.6,203.5 48.2,202.6 Q47.9,201.8 47.8,200.4 Q47.7,199.2 47.8,197.5 Q47.8,195.9 48.0,193.9 Q48.2,192.0 48.5,189.7 Q48.8,187.4 49.2,185.2 Q49.6,182.9 50.1,180.9 Q50.5,179.0 51.2,177.4 Q51.9,175.8 52.5,174.7 Q53.1,173.6 53.6,173.1Z" fill="#d8f030" filter="url(#bl1)"/>
<ellipse cx="54.0" cy="183.8" rx="5.8" ry="7.0" fill="#e8140c" opacity="1" filter="url(#bl1)"/>
<ellipse cx="54.0" cy="193.0" rx="7.8" ry="1.5" fill="#2a48e0" opacity="1" filter="url(#bl1)"/>
<ellipse cx="54.0" cy="194.5" rx="3" ry="1.4" fill="#f4f4f4" opacity="1" filter="url(#bl1)"/>
<ellipse cx="54.0" cy="204.5" rx="7.5" ry="2.2" fill="#e0e830" opacity="1" filter="url(#bl1)"/>
<ellipse cx="50.2" cy="201.0" rx="4.8" ry="4.2" fill="#e8140c" opacity="1" filter="url(#bl1)"/>
<ellipse cx="57.8" cy="201.0" rx="4.8" ry="4.2" fill="#e8140c" opacity="1" filter="url(#bl1)"/>
<path d="M68.9,170.7 Q69.5,170.0 70.1,170.7 Q70.7,171.3 71.5,172.5 Q72.4,173.8 73.2,175.6 Q74.1,177.5 74.8,179.8 Q75.4,182.0 75.9,184.6 Q76.5,187.2 76.8,189.9 Q77.2,192.5 77.5,194.8 Q77.7,197.0 77.8,198.9 Q77.9,200.8 77.8,202.2 Q77.6,203.8 77.2,204.8 Q76.7,205.8 75.4,206.6 Q74.1,207.3 71.8,207.4 Q69.5,207.5 67.2,207.4 Q64.9,207.3 63.6,206.6 Q62.3,205.8 61.8,204.8 Q61.4,203.8 61.2,202.2 Q61.1,200.8 61.2,198.9 Q61.3,197.0 61.5,194.8 Q61.8,192.5 62.1,189.9 Q62.5,187.2 63.1,184.6 Q63.6,182.0 64.2,179.8 Q64.9,177.5 65.8,175.6 Q66.6,173.8 67.5,172.5 Q68.3,171.3 68.9,170.7Z" fill="#2848e0"/>
<path d="M69.0,171.6 Q69.5,171.0 70.0,171.6 Q70.5,172.2 71.3,173.3 Q72.0,174.5 72.8,176.2 Q73.6,178.0 74.1,180.0 Q74.7,182.1 75.2,184.6 Q75.6,187.0 76.0,189.4 Q76.3,191.9 76.5,194.0 Q76.8,196.1 76.8,197.8 Q76.9,199.5 76.8,200.9 Q76.7,202.3 76.3,203.3 Q75.9,204.2 74.7,204.9 Q73.6,205.6 71.5,205.7 Q69.5,205.8 67.5,205.7 Q65.4,205.6 64.3,204.9 Q63.1,204.2 62.7,203.3 Q62.3,202.3 62.2,200.9 Q62.1,199.5 62.2,197.8 Q62.2,196.1 62.5,194.0 Q62.7,191.9 63.0,189.4 Q63.4,187.0 63.8,184.6 Q64.3,182.1 64.9,180.0 Q65.4,178.0 66.2,176.2 Q67.0,174.5 67.7,173.3 Q68.5,172.2 69.0,171.6Z" fill="#40d8c8" filter="url(#bl1)"/>
<path d="M69.1,173.1 Q69.5,172.5 69.9,173.1 Q70.4,173.6 71.0,174.7 Q71.6,175.8 72.3,177.4 Q73.0,179.0 73.4,180.9 Q73.9,182.9 74.3,185.2 Q74.7,187.4 75.0,189.7 Q75.3,192.0 75.5,193.9 Q75.7,195.9 75.7,197.5 Q75.8,199.2 75.7,200.4 Q75.6,201.8 75.3,202.6 Q74.9,203.5 73.9,204.2 Q73.0,204.8 71.2,204.9 Q69.5,205.0 67.8,204.9 Q66.0,204.8 65.1,204.2 Q64.1,203.5 63.7,202.6 Q63.4,201.8 63.3,200.4 Q63.2,199.2 63.3,197.5 Q63.3,195.9 63.5,193.9 Q63.7,192.0 64.0,189.7 Q64.3,187.4 64.7,185.2 Q65.1,182.9 65.6,180.9 Q66.0,179.0 66.7,177.4 Q67.4,175.8 68.0,174.7 Q68.6,173.6 69.1,173.1Z" fill="#d8f030" filter="url(#bl1)"/>
<ellipse cx="69.5" cy="183.8" rx="5.8" ry="7.0" fill="#e8140c" opacity="1" filter="url(#bl1)"/>
<ellipse cx="69.5" cy="193.0" rx="7.8" ry="1.5" fill="#2a48e0" opacity="1" filter="url(#bl1)"/>
<ellipse cx="69.5" cy="194.5" rx="3" ry="1.4" fill="#f4f4f4" opacity="1" filter="url(#bl1)"/>
<ellipse cx="69.5" cy="204.5" rx="7.5" ry="2.2" fill="#e0e830" opacity="1" filter="url(#bl1)"/>
<ellipse cx="65.7" cy="201.0" rx="4.8" ry="4.2" fill="#e8140c" opacity="1" filter="url(#bl1)"/>
<ellipse cx="73.3" cy="201.0" rx="4.8" ry="4.2" fill="#e8140c" opacity="1" filter="url(#bl1)"/>
<path d="M83.2,170.7 Q83.8,170.0 84.4,170.7 Q85.0,171.3 85.8,172.5 Q86.7,173.8 87.5,175.6 Q88.4,177.5 89.0,179.8 Q89.7,182.0 90.2,184.6 Q90.8,187.2 91.1,189.9 Q91.5,192.5 91.8,194.8 Q92.0,197.0 92.1,198.9 Q92.2,200.8 92.1,202.2 Q91.9,203.8 91.5,204.8 Q91.0,205.8 89.7,206.6 Q88.4,207.3 86.1,207.4 Q83.8,207.5 81.5,207.4 Q79.2,207.3 77.9,206.6 Q76.6,205.8 76.1,204.8 Q75.7,203.8 75.5,202.2 Q75.4,200.8 75.5,198.9 Q75.6,197.0 75.8,194.8 Q76.1,192.5 76.5,189.9 Q76.8,187.2 77.4,184.6 Q77.9,182.0 78.5,179.8 Q79.2,177.5 80.1,175.6 Q80.9,173.8 81.8,172.5 Q82.6,171.3 83.2,170.7Z" fill="#2848e0"/>
<path d="M83.3,171.6 Q83.8,171.0 84.3,171.6 Q84.8,172.2 85.6,173.3 Q86.3,174.5 87.1,176.2 Q87.9,178.0 88.4,180.0 Q89.0,182.1 89.5,184.6 Q89.9,187.0 90.3,189.4 Q90.6,191.9 90.8,194.0 Q91.1,196.1 91.1,197.8 Q91.2,199.5 91.1,200.9 Q91.0,202.3 90.6,203.3 Q90.2,204.2 89.0,204.9 Q87.9,205.6 85.8,205.7 Q83.8,205.8 81.8,205.7 Q79.7,205.6 78.6,204.9 Q77.4,204.2 77.0,203.3 Q76.6,202.3 76.5,200.9 Q76.4,199.5 76.5,197.8 Q76.5,196.1 76.8,194.0 Q77.0,191.9 77.3,189.4 Q77.7,187.0 78.1,184.6 Q78.6,182.1 79.2,180.0 Q79.7,178.0 80.5,176.2 Q81.3,174.5 82.0,173.3 Q82.8,172.2 83.3,171.6Z" fill="#40d8c8" filter="url(#bl1)"/>
<path d="M83.4,173.1 Q83.8,172.5 84.2,173.1 Q84.7,173.6 85.3,174.7 Q85.9,175.8 86.6,177.4 Q87.3,179.0 87.7,180.9 Q88.2,182.9 88.6,185.2 Q89.0,187.4 89.3,189.7 Q89.6,192.0 89.8,193.9 Q90.0,195.9 90.0,197.5 Q90.1,199.2 90.0,200.4 Q89.9,201.8 89.6,202.6 Q89.2,203.5 88.2,204.2 Q87.3,204.8 85.5,204.9 Q83.8,205.0 82.1,204.9 Q80.3,204.8 79.4,204.2 Q78.4,203.5 78.0,202.6 Q77.7,201.8 77.6,200.4 Q77.5,199.2 77.6,197.5 Q77.6,195.9 77.8,193.9 Q78.0,192.0 78.3,189.7 Q78.6,187.4 79.0,185.2 Q79.4,182.9 79.9,180.9 Q80.3,179.0 81.0,177.4 Q81.7,175.8 82.3,174.7 Q82.9,173.6 83.4,173.1Z" fill="#d8f030" filter="url(#bl1)"/>
<ellipse cx="83.8" cy="183.8" rx="5.8" ry="7.0" fill="#e8140c" opacity="1" filter="url(#bl1)"/>
<ellipse cx="83.8" cy="193.0" rx="7.8" ry="1.5" fill="#2a48e0" opacity="1" filter="url(#bl1)"/>
<ellipse cx="83.8" cy="194.5" rx="3" ry="1.4" fill="#f4f4f4" opacity="1" filter="url(#bl1)"/>
<ellipse cx="83.8" cy="204.5" rx="7.5" ry="2.2" fill="#e0e830" opacity="1" filter="url(#bl1)"/>
<ellipse cx="80.0" cy="201.0" rx="4.8" ry="4.2" fill="#e8140c" opacity="1" filter="url(#bl1)"/>
<ellipse cx="87.6" cy="201.0" rx="4.8" ry="4.2" fill="#e8140c" opacity="1" filter="url(#bl1)"/>
<path d="M98.8,170.7 Q99.4,170.0 100.0,170.7 Q100.6,171.3 101.4,172.5 Q102.3,173.8 103.1,175.6 Q104.0,177.5 104.7,179.8 Q105.3,182.0 105.8,184.6 Q106.4,187.2 106.8,189.9 Q107.1,192.5 107.4,194.8 Q107.6,197.0 107.7,198.9 Q107.8,200.8 107.7,202.2 Q107.5,203.8 107.1,204.8 Q106.6,205.8 105.3,206.6 Q104.0,207.3 101.7,207.4 Q99.4,207.5 97.1,207.4 Q94.8,207.3 93.5,206.6 Q92.2,205.8 91.7,204.8 Q91.3,203.8 91.1,202.2 Q91.0,200.8 91.1,198.9 Q91.2,197.0 91.4,194.8 Q91.7,192.5 92.1,189.9 Q92.4,187.2 93.0,184.6 Q93.5,182.0 94.2,179.8 Q94.8,177.5 95.7,175.6 Q96.5,173.8 97.4,172.5 Q98.2,171.3 98.8,170.7Z" fill="#2848e0"/>
<path d="M98.9,171.6 Q99.4,171.0 99.9,171.6 Q100.4,172.2 101.2,173.3 Q101.9,174.5 102.7,176.2 Q103.5,178.0 104.0,180.0 Q104.6,182.1 105.1,184.6 Q105.5,187.0 105.9,189.4 Q106.2,191.9 106.4,194.0 Q106.7,196.1 106.7,197.8 Q106.8,199.5 106.7,200.9 Q106.6,202.3 106.2,203.3 Q105.8,204.2 104.6,204.9 Q103.5,205.6 101.4,205.7 Q99.4,205.8 97.4,205.7 Q95.3,205.6 94.2,204.9 Q93.0,204.2 92.6,203.3 Q92.2,202.3 92.1,200.9 Q92.0,199.5 92.1,197.8 Q92.1,196.1 92.4,194.0 Q92.6,191.9 92.9,189.4 Q93.3,187.0 93.7,184.6 Q94.2,182.1 94.8,180.0 Q95.3,178.0 96.1,176.2 Q96.9,174.5 97.6,173.3 Q98.4,172.2 98.9,171.6Z" fill="#40d8c8" filter="url(#bl1)"/>
<path d="M99.0,173.1 Q99.4,172.5 99.8,173.1 Q100.3,173.6 100.9,174.7 Q101.5,175.8 102.2,177.4 Q102.9,179.0 103.3,180.9 Q103.8,182.9 104.2,185.2 Q104.6,187.4 104.9,189.7 Q105.2,192.0 105.4,193.9 Q105.6,195.9 105.6,197.5 Q105.7,199.2 105.6,200.4 Q105.5,201.8 105.2,202.6 Q104.8,203.5 103.8,204.2 Q102.9,204.8 101.1,204.9 Q99.4,205.0 97.7,204.9 Q95.9,204.8 95.0,204.2 Q94.0,203.5 93.6,202.6 Q93.3,201.8 93.2,200.4 Q93.1,199.2 93.2,197.5 Q93.2,195.9 93.4,193.9 Q93.6,192.0 93.9,189.7 Q94.2,187.4 94.6,185.2 Q95.0,182.9 95.5,180.9 Q95.9,179.0 96.6,177.4 Q97.3,175.8 97.9,174.7 Q98.5,173.6 99.0,173.1Z" fill="#d8f030" filter="url(#bl1)"/>
<ellipse cx="99.4" cy="183.8" rx="5.8" ry="7.0" fill="#e8140c" opacity="1" filter="url(#bl1)"/>
<ellipse cx="99.4" cy="193.0" rx="7.8" ry="1.5" fill="#2a48e0" opacity="1" filter="url(#bl1)"/>
<ellipse cx="99.4" cy="204.5" rx="7.5" ry="2.2" fill="#e0e830" opacity="1" filter="url(#bl1)"/>
<ellipse cx="95.6" cy="201.0" rx="4.8" ry="4.2" fill="#e8140c" opacity="1" filter="url(#bl1)"/>
<ellipse cx="103.2" cy="201.0" rx="4.8" ry="4.2" fill="#e8140c" opacity="1" filter="url(#bl1)"/>
<rect x="116" y="155" width="79" height="8.8" fill="#3e3e3e"/>
<path d="M120.0,194.5 L116.2,199.0 M129.2,194.5 L133.0,199.0" stroke="#c8c8c8" stroke-width="1.6" stroke-linecap="round" fill="none"/>
<path d="M134.8,194.5 L131.0,199.0 M144.0,194.5 L147.8,199.0" stroke="#c8c8c8" stroke-width="1.6" stroke-linecap="round" fill="none"/>
<path d="M150.7,194.5 L146.9,199.0 M159.9,194.5 L163.7,199.0" stroke="#c8c8c8" stroke-width="1.6" stroke-linecap="round" fill="none"/>
<path d="M166.0,194.5 L162.2,199.0 M175.2,194.5 L179.0,199.0" stroke="#c8c8c8" stroke-width="1.6" stroke-linecap="round" fill="none"/>
<path d="M182.4,194.5 L178.6,199.0 M191.6,194.5 L195.4,199.0" stroke="#c8c8c8" stroke-width="1.6" stroke-linecap="round" fill="none"/>
<path d="M124.6,196.5 Q125.6,213.8 125.1,231.0" stroke="#b4b4b4" stroke-width="1.3" fill="none" opacity="1"/>
<path d="M139.4,196.5 Q140.4,213.8 139.9,231.0" stroke="#b4b4b4" stroke-width="1.3" fill="none" opacity="1"/>
<path d="M155.3,196.5 Q155.3,213.8 155.3,231.0" stroke="#b4b4b4" stroke-width="1.3" fill="none" opacity="1"/>
<path d="M170.6,196.5 Q171.6,213.8 171.1,231.0" stroke="#b4b4b4" stroke-width="1.3" fill="none" opacity="1"/>
<path d="M187.0,196.5 Q187.0,213.8 187.0,231.0" stroke="#b4b4b4" stroke-width="1.3" fill="none" opacity="1"/>
<path d="M124.1,165.7 Q124.6,165.0 125.1,165.7 Q125.5,166.3 126.2,167.7 Q126.9,169.0 127.5,171.0 Q128.2,173.0 128.9,175.6 Q129.5,178.1 130.0,180.6 Q130.4,183.1 130.7,185.8 Q131.0,188.4 131.1,190.8 Q131.3,193.1 131.2,194.5 Q131.0,195.8 130.5,196.7 Q130.0,197.5 127.3,198.0 Q124.6,198.5 121.9,198.0 Q119.2,197.5 118.7,196.7 Q118.2,195.8 118.0,194.5 Q117.9,193.1 118.1,190.8 Q118.2,188.4 118.5,185.8 Q118.8,183.1 119.2,180.6 Q119.7,178.1 120.3,175.6 Q121.0,173.0 121.7,171.0 Q122.3,169.0 123.0,167.7 Q123.7,166.3 124.1,165.7Z" fill="url(#mouseg)"/>
<path d="M138.9,165.7 Q139.4,165.0 139.9,165.7 Q140.3,166.3 141.0,167.7 Q141.7,169.0 142.3,171.0 Q143.0,173.0 143.7,175.6 Q144.3,178.1 144.8,180.6 Q145.2,183.1 145.5,185.8 Q145.8,188.4 145.9,190.8 Q146.1,193.1 146.0,194.5 Q145.8,195.8 145.3,196.7 Q144.8,197.5 142.1,198.0 Q139.4,198.5 136.7,198.0 Q134.0,197.5 133.5,196.7 Q133.0,195.8 132.8,194.5 Q132.7,193.1 132.9,190.8 Q133.0,188.4 133.3,185.8 Q133.6,183.1 134.0,180.6 Q134.5,178.1 135.1,175.6 Q135.8,173.0 136.5,171.0 Q137.1,169.0 137.8,167.7 Q138.5,166.3 138.9,165.7Z" fill="url(#mouseg)"/>
<path d="M154.8,165.7 Q155.3,165.0 155.8,165.7 Q156.2,166.3 156.9,167.7 Q157.6,169.0 158.2,171.0 Q158.9,173.0 159.6,175.6 Q160.2,178.1 160.7,180.6 Q161.1,183.1 161.4,185.8 Q161.7,188.4 161.8,190.8 Q162.0,193.1 161.9,194.5 Q161.7,195.8 161.2,196.7 Q160.7,197.5 158.0,198.0 Q155.3,198.5 152.6,198.0 Q149.9,197.5 149.4,196.7 Q148.9,195.8 148.7,194.5 Q148.6,193.1 148.8,190.8 Q148.9,188.4 149.2,185.8 Q149.5,183.1 149.9,180.6 Q150.4,178.1 151.0,175.6 Q151.7,173.0 152.4,171.0 Q153.0,169.0 153.7,167.7 Q154.4,166.3 154.8,165.7Z" fill="url(#mouseg)"/>
<path d="M170.1,165.7 Q170.6,165.0 171.1,165.7 Q171.5,166.3 172.2,167.7 Q172.9,169.0 173.5,171.0 Q174.2,173.0 174.9,175.6 Q175.5,178.1 176.0,180.6 Q176.4,183.1 176.7,185.8 Q177.0,188.4 177.1,190.8 Q177.3,193.1 177.2,194.5 Q177.0,195.8 176.5,196.7 Q176.0,197.5 173.3,198.0 Q170.6,198.5 167.9,198.0 Q165.2,197.5 164.7,196.7 Q164.2,195.8 164.0,194.5 Q163.9,193.1 164.1,190.8 Q164.2,188.4 164.5,185.8 Q164.8,183.1 165.2,180.6 Q165.7,178.1 166.3,175.6 Q167.0,173.0 167.7,171.0 Q168.3,169.0 169.0,167.7 Q169.7,166.3 170.1,165.7Z" fill="url(#mouseg)"/>
<path d="M186.5,165.7 Q187.0,165.0 187.5,165.7 Q187.9,166.3 188.6,167.7 Q189.3,169.0 189.9,171.0 Q190.6,173.0 191.3,175.6 Q191.9,178.1 192.4,180.6 Q192.8,183.1 193.1,185.8 Q193.4,188.4 193.5,190.8 Q193.7,193.1 193.6,194.5 Q193.4,195.8 192.9,196.7 Q192.4,197.5 189.7,198.0 Q187.0,198.5 184.3,198.0 Q181.6,197.5 181.1,196.7 Q180.6,195.8 180.4,194.5 Q180.3,193.1 180.5,190.8 Q180.6,188.4 180.9,185.8 Q181.2,183.1 181.6,180.6 Q182.1,178.1 182.7,175.6 Q183.4,173.0 184.1,171.0 Q184.7,169.0 185.4,167.7 Q186.1,166.3 186.5,165.7Z" fill="url(#mouseg)"/>
<ellipse cx="124.6" cy="176.0" rx="2.5" ry="3.5" fill="#2a40e6" opacity="0.9" filter="url(#bl1)"/>
<ellipse cx="120.6" cy="186.0" rx="2" ry="2.5" fill="#2a40e6" opacity="0.9" filter="url(#bl1)"/>
<ellipse cx="139.4" cy="172.0" rx="3" ry="3" fill="#2a40e6" opacity="0.9" filter="url(#bl1)"/>
<ellipse cx="136.4" cy="186.0" rx="2.5" ry="3" fill="#2a40e6" opacity="0.9" filter="url(#bl1)"/>
<ellipse cx="142.4" cy="194.0" rx="2.5" ry="2" fill="#2a40e6" opacity="0.9" filter="url(#bl1)"/>
<ellipse cx="155.3" cy="170.0" rx="3" ry="3" fill="#2a40e6" opacity="0.9" filter="url(#bl1)"/>
<ellipse cx="157.3" cy="180.0" rx="3" ry="3.5" fill="#2a40e6" opacity="0.9" filter="url(#bl1)"/>
<ellipse cx="151.3" cy="190.0" rx="3" ry="3" fill="#2a40e6" opacity="0.9" filter="url(#bl1)"/>
<ellipse cx="158.3" cy="196.0" rx="2.5" ry="2" fill="#2a40e6" opacity="0.9" filter="url(#bl1)"/>
<ellipse cx="170.6" cy="175.0" rx="3" ry="4" fill="#2a40e6" opacity="0.9" filter="url(#bl1)"/>
<ellipse cx="167.6" cy="190.0" rx="2.5" ry="2.5" fill="#2a40e6" opacity="0.9" filter="url(#bl1)"/>
<ellipse cx="174.6" cy="196.0" rx="2.5" ry="2" fill="#2a40e6" opacity="0.9" filter="url(#bl1)"/>
<ellipse cx="187.0" cy="176.0" rx="3.5" ry="3" fill="#2a40e6" opacity="0.9" filter="url(#bl1)"/>
<ellipse cx="183.0" cy="188.0" rx="2.5" ry="2.5" fill="#2a40e6" opacity="0.9" filter="url(#bl1)"/>
<ellipse cx="190.0" cy="194.0" rx="2.5" ry="2" fill="#2a40e6" opacity="0.9" filter="url(#bl1)"/>
<rect x="200" y="155" width="84" height="78" fill="#2222d8"/>
<rect x="200" y="155" width="84" height="2" fill="#2c2c30"/>
<rect x="200" y="157" width="84" height="6" fill="#555558"/>
<ellipse cx="217.0" cy="160.5" rx="6" ry="2.5" fill="#2a30e0" opacity="0.85" filter="url(#bl1)"/>
<ellipse cx="244.0" cy="160.0" rx="5" ry="2.2" fill="#2a30e0" opacity="0.7" filter="url(#bl1)"/>
<ellipse cx="262.0" cy="161.0" rx="4" ry="2" fill="#2a30e0" opacity="0.5" filter="url(#bl1)"/>
<g fill="#363640" opacity="0.92" filter="url(#bl1)"><ellipse cx="202.4" cy="214.8" rx="2.0" ry="5.7" transform="rotate(20 202.4 214.8)"/><ellipse cx="209.5" cy="214.9" rx="1.9" ry="4.5" transform="rotate(20 209.5 214.9)"/><ellipse cx="201.1" cy="206.4" rx="2.5" ry="5.2" transform="rotate(20 201.1 206.4)"/><ellipse cx="213.4" cy="226.1" rx="2.0" ry="2.9" transform="rotate(20 213.4 226.1)"/><ellipse cx="200.1" cy="228.6" rx="1.3" ry="5.9" transform="rotate(20 200.1 228.6)"/><ellipse cx="273.3" cy="208.8" rx="1.9" ry="4.9" transform="rotate(20 273.3 208.8)"/><ellipse cx="281.2" cy="229.4" rx="1.6" ry="3.1" transform="rotate(20 281.2 229.4)"/><ellipse cx="212.2" cy="201.2" rx="2.0" ry="2.5" transform="rotate(20 212.2 201.2)"/><ellipse cx="256.9" cy="210.5" rx="2.3" ry="4.2" transform="rotate(20 256.9 210.5)"/><ellipse cx="226.5" cy="215.4" rx="1.1" ry="5.9" transform="rotate(20 226.5 215.4)"/><ellipse cx="248.6" cy="199.3" rx="1.3" ry="5.8" transform="rotate(20 248.6 199.3)"/><ellipse cx="279.1" cy="210.7" rx="1.8" ry="5.2" transform="rotate(20 279.1 210.7)"/><ellipse cx="272.2" cy="200.2" rx="1.1" ry="3.7" transform="rotate(20 272.2 200.2)"/><ellipse cx="251.3" cy="230.2" rx="2.5" ry="4.4" transform="rotate(20 251.3 230.2)"/><ellipse cx="226.2" cy="209.8" rx="1.1" ry="3.0" transform="rotate(20 226.2 209.8)"/><ellipse cx="257.9" cy="232.9" rx="1.1" ry="6.0" transform="rotate(20 257.9 232.9)"/><ellipse cx="244.8" cy="212.8" rx="2.0" ry="5.4" transform="rotate(20 244.8 212.8)"/><ellipse cx="238.3" cy="213.3" rx="2.5" ry="2.6" transform="rotate(20 238.3 213.3)"/><ellipse cx="241.5" cy="227.5" rx="2.2" ry="5.8" transform="rotate(20 241.5 227.5)"/><ellipse cx="253.0" cy="225.8" rx="1.7" ry="3.0" transform="rotate(20 253.0 225.8)"/><ellipse cx="271.0" cy="209.0" rx="2.6" ry="5.5" transform="rotate(20 271.0 209.0)"/><ellipse cx="282.0" cy="214.4" rx="2.2" ry="4.2" transform="rotate(20 282.0 214.4)"/><ellipse cx="224.4" cy="212.7" rx="1.6" ry="6.0" transform="rotate(20 224.4 212.7)"/><ellipse cx="280.6" cy="220.3" rx="1.5" ry="2.8" transform="rotate(20 280.6 220.3)"/><ellipse cx="230.5" cy="223.0" rx="1.8" ry="5.2" transform="rotate(20 230.5 223.0)"/><ellipse cx="258.0" cy="209.0" rx="2.0" ry="4.5" transform="rotate(20 258.0 209.0)"/><ellipse cx="201.0" cy="217.6" rx="2.1" ry="4.1" transform="rotate(20 201.0 217.6)"/><ellipse cx="269.6" cy="210.9" rx="2.4" ry="4.9" transform="rotate(20 269.6 210.9)"/><ellipse cx="282.0" cy="231.5" rx="1.8" ry="3.1" transform="rotate(20 282.0 231.5)"/><ellipse cx="270.3" cy="230.9" rx="2.1" ry="5.0" transform="rotate(20 270.3 230.9)"/><ellipse cx="261.3" cy="204.8" rx="1.9" ry="4.8" transform="rotate(20 261.3 204.8)"/><ellipse cx="253.5" cy="223.5" rx="1.3" ry="4.0" transform="rotate(20 253.5 223.5)"/><ellipse cx="254.6" cy="206.4" rx="2.0" ry="2.6" transform="rotate(20 254.6 206.4)"/><ellipse cx="239.6" cy="206.7" rx="1.2" ry="3.6" transform="rotate(20 239.6 206.7)"/><ellipse cx="215.2" cy="205.6" rx="1.7" ry="3.8" transform="rotate(20 215.2 205.6)"/><ellipse cx="251.4" cy="219.1" rx="2.4" ry="2.5" transform="rotate(20 251.4 219.1)"/><ellipse cx="234.1" cy="208.5" rx="1.2" ry="5.4" transform="rotate(20 234.1 208.5)"/><ellipse cx="231.4" cy="200.2" rx="1.2" ry="4.4" transform="rotate(20 231.4 200.2)"/><ellipse cx="268.8" cy="213.2" rx="2.0" ry="3.8" transform="rotate(20 268.8 213.2)"/><ellipse cx="211.9" cy="219.3" rx="2.5" ry="5.9" transform="rotate(20 211.9 219.3)"/><ellipse cx="251.1" cy="210.9" rx="1.0" ry="2.9" transform="rotate(20 251.1 210.9)"/><ellipse cx="247.5" cy="219.9" rx="2.0" ry="5.6" transform="rotate(20 247.5 219.9)"/><ellipse cx="231.6" cy="213.7" rx="1.5" ry="5.9" transform="rotate(20 231.6 213.7)"/><ellipse cx="241.7" cy="213.1" rx="2.6" ry="4.2" transform="rotate(20 241.7 213.1)"/><ellipse cx="224.1" cy="215.2" rx="2.0" ry="4.1" transform="rotate(20 224.1 215.2)"/><ellipse cx="201.1" cy="217.1" rx="2.5" ry="5.2" transform="rotate(20 201.1 217.1)"/><ellipse cx="220.6" cy="208.1" rx="2.6" ry="3.5" transform="rotate(20 220.6 208.1)"/><ellipse cx="251.1" cy="215.1" rx="2.0" ry="5.1" transform="rotate(20 251.1 215.1)"/><ellipse cx="244.8" cy="210.4" rx="1.8" ry="4.1" transform="rotate(20 244.8 210.4)"/><ellipse cx="203.1" cy="207.6" rx="2.5" ry="5.6" transform="rotate(20 203.1 207.6)"/><ellipse cx="253.1" cy="215.4" rx="1.6" ry="3.9" transform="rotate(20 253.1 215.4)"/><ellipse cx="271.6" cy="205.7" rx="2.3" ry="2.7" transform="rotate(20 271.6 205.7)"/><ellipse cx="270.2" cy="222.6" rx="1.5" ry="5.2" transform="rotate(20 270.2 222.6)"/><ellipse cx="276.5" cy="203.9" rx="1.9" ry="4.2" transform="rotate(20 276.5 203.9)"/><ellipse cx="227.8" cy="204.2" rx="2.3" ry="2.7" transform="rotate(20 227.8 204.2)"/><ellipse cx="204.1" cy="227.6" rx="2.0" ry="5.8" transform="rotate(20 204.1 227.6)"/><ellipse cx="259.8" cy="203.6" rx="2.5" ry="3.0" transform="rotate(20 259.8 203.6)"/><ellipse cx="251.3" cy="213.1" rx="2.0" ry="2.7" transform="rotate(20 251.3 213.1)"/><ellipse cx="209.1" cy="211.9" rx="1.1" ry="4.5" transform="rotate(20 209.1 211.9)"/><ellipse cx="262.4" cy="228.9" rx="1.7" ry="3.6" transform="rotate(20 262.4 228.9)"/><ellipse cx="250.4" cy="215.6" rx="1.6" ry="2.7" transform="rotate(20 250.4 215.6)"/><ellipse cx="258.6" cy="204.1" rx="1.8" ry="5.7" transform="rotate(20 258.6 204.1)"/><ellipse cx="246.6" cy="220.1" rx="1.9" ry="3.4" transform="rotate(20 246.6 220.1)"/><ellipse cx="263.0" cy="216.6" rx="1.4" ry="3.8" transform="rotate(20 263.0 216.6)"/><ellipse cx="261.9" cy="205.1" rx="2.0" ry="2.8" transform="rotate(20 261.9 205.1)"/><ellipse cx="256.1" cy="202.1" rx="2.0" ry="3.3" transform="rotate(20 256.1 202.1)"/><ellipse cx="273.7" cy="215.3" rx="2.3" ry="2.6" transform="rotate(20 273.7 215.3)"/><ellipse cx="260.9" cy="200.8" rx="2.5" ry="4.9" transform="rotate(20 260.9 200.8)"/><ellipse cx="255.9" cy="226.9" rx="2.0" ry="3.7" transform="rotate(20 255.9 226.9)"/><ellipse cx="219.7" cy="210.3" rx="1.6" ry="3.9" transform="rotate(20 219.7 210.3)"/><ellipse cx="267.6" cy="213.7" rx="1.8" ry="4.6" transform="rotate(20 267.6 213.7)"/><ellipse cx="208.1" cy="200.1" rx="1.1" ry="5.6" transform="rotate(20 208.1 200.1)"/><ellipse cx="240.4" cy="224.9" rx="1.8" ry="5.6" transform="rotate(20 240.4 224.9)"/><ellipse cx="252.0" cy="213.6" rx="1.2" ry="3.0" transform="rotate(20 252.0 213.6)"/><ellipse cx="213.4" cy="211.7" rx="2.4" ry="3.0" transform="rotate(20 213.4 211.7)"/><ellipse cx="221.3" cy="208.4" rx="1.5" ry="3.3" transform="rotate(20 221.3 208.4)"/><ellipse cx="240.5" cy="200.1" rx="1.6" ry="5.8" transform="rotate(20 240.5 200.1)"/><ellipse cx="257.8" cy="221.9" rx="2.5" ry="2.9" transform="rotate(20 257.8 221.9)"/><ellipse cx="256.2" cy="208.9" rx="2.2" ry="3.1" transform="rotate(20 256.2 208.9)"/><ellipse cx="216.9" cy="199.8" rx="1.1" ry="3.9" transform="rotate(20 216.9 199.8)"/><ellipse cx="281.8" cy="211.4" rx="1.7" ry="3.5" transform="rotate(20 281.8 211.4)"/><ellipse cx="261.5" cy="223.4" rx="1.4" ry="4.9" transform="rotate(20 261.5 223.4)"/><ellipse cx="279.0" cy="221.0" rx="2.6" ry="2.5" transform="rotate(20 279.0 221.0)"/><ellipse cx="243.6" cy="210.9" rx="1.1" ry="5.6" transform="rotate(20 243.6 210.9)"/><ellipse cx="241.3" cy="230.8" rx="1.4" ry="2.7" transform="rotate(20 241.3 230.8)"/><ellipse cx="233.4" cy="201.0" rx="1.7" ry="3.6" transform="rotate(20 233.4 201.0)"/><ellipse cx="215.1" cy="216.3" rx="1.9" ry="2.8" transform="rotate(20 215.1 216.3)"/><ellipse cx="226.4" cy="202.7" rx="2.5" ry="4.6" transform="rotate(20 226.4 202.7)"/><ellipse cx="272.0" cy="206.3" rx="1.9" ry="4.2" transform="rotate(20 272.0 206.3)"/><ellipse cx="248.0" cy="211.8" rx="2.2" ry="5.7" transform="rotate(20 248.0 211.8)"/><ellipse cx="225.8" cy="214.3" rx="1.4" ry="2.9" transform="rotate(20 225.8 214.3)"/><ellipse cx="226.2" cy="202.0" rx="2.3" ry="3.6" transform="rotate(20 226.2 202.0)"/><ellipse cx="210.9" cy="201.8" rx="1.1" ry="4.0" transform="rotate(20 210.9 201.8)"/><ellipse cx="248.5" cy="207.3" rx="2.1" ry="2.7" transform="rotate(20 248.5 207.3)"/><ellipse cx="216.8" cy="208.7" rx="1.2" ry="4.0" transform="rotate(20 216.8 208.7)"/><ellipse cx="248.3" cy="214.0" rx="2.0" ry="5.8" transform="rotate(20 248.3 214.0)"/><ellipse cx="261.2" cy="222.8" rx="2.3" ry="3.8" transform="rotate(20 261.2 222.8)"/><ellipse cx="210.9" cy="201.2" rx="1.4" ry="4.9" transform="rotate(20 210.9 201.2)"/><ellipse cx="224.0" cy="201.2" rx="1.9" ry="2.6" transform="rotate(20 224.0 201.2)"/><ellipse cx="204.3" cy="203.4" rx="2.4" ry="5.8" transform="rotate(20 204.3 203.4)"/><ellipse cx="251.4" cy="206.9" rx="1.6" ry="3.7" transform="rotate(20 251.4 206.9)"/><ellipse cx="261.1" cy="202.2" rx="1.3" ry="5.0" transform="rotate(20 261.1 202.2)"/><ellipse cx="209.9" cy="209.8" rx="1.7" ry="4.0" transform="rotate(20 209.9 209.8)"/><ellipse cx="204.4" cy="232.3" rx="1.9" ry="4.2" transform="rotate(20 204.4 232.3)"/><ellipse cx="274.1" cy="212.4" rx="1.4" ry="3.2" transform="rotate(20 274.1 212.4)"/><ellipse cx="247.2" cy="211.1" rx="1.4" ry="3.7" transform="rotate(20 247.2 211.1)"/><ellipse cx="271.4" cy="220.0" rx="1.2" ry="5.4" transform="rotate(20 271.4 220.0)"/><ellipse cx="241.2" cy="200.3" rx="1.2" ry="5.0" transform="rotate(20 241.2 200.3)"/><ellipse cx="275.6" cy="205.8" rx="1.5" ry="4.9" transform="rotate(20 275.6 205.8)"/><ellipse cx="231.6" cy="199.3" rx="1.9" ry="3.1" transform="rotate(20 231.6 199.3)"/><ellipse cx="232.7" cy="209.8" rx="1.5" ry="3.8" transform="rotate(20 232.7 209.8)"/><ellipse cx="240.0" cy="222.9" rx="2.6" ry="5.4" transform="rotate(20 240.0 222.9)"/><ellipse cx="277.6" cy="222.6" rx="1.9" ry="5.3" transform="rotate(20 277.6 222.6)"/><ellipse cx="243.9" cy="208.7" rx="1.1" ry="3.7" transform="rotate(20 243.9 208.7)"/><ellipse cx="225.8" cy="230.6" rx="2.1" ry="2.8" transform="rotate(20 225.8 230.6)"/><ellipse cx="262.0" cy="219.8" rx="1.8" ry="5.6" transform="rotate(20 262.0 219.8)"/><ellipse cx="233.0" cy="199.1" rx="1.3" ry="4.8" transform="rotate(20 233.0 199.1)"/><ellipse cx="275.6" cy="229.9" rx="1.6" ry="2.9" transform="rotate(20 275.6 229.9)"/><ellipse cx="257.9" cy="217.8" rx="1.6" ry="5.6" transform="rotate(20 257.9 217.8)"/><ellipse cx="217.9" cy="209.4" rx="2.0" ry="5.6" transform="rotate(20 217.9 209.4)"/><ellipse cx="218.9" cy="201.1" rx="2.3" ry="5.6" transform="rotate(20 218.9 201.1)"/><ellipse cx="261.2" cy="213.2" rx="1.8" ry="5.7" transform="rotate(20 261.2 213.2)"/><ellipse cx="225.4" cy="208.5" rx="2.5" ry="3.2" transform="rotate(20 225.4 208.5)"/><ellipse cx="202.6" cy="202.9" rx="2.0" ry="3.1" transform="rotate(20 202.6 202.9)"/><ellipse cx="258.0" cy="223.8" rx="1.8" ry="5.4" transform="rotate(20 258.0 223.8)"/><ellipse cx="280.4" cy="209.8" rx="2.0" ry="5.7" transform="rotate(20 280.4 209.8)"/><ellipse cx="240.0" cy="202.4" rx="1.3" ry="2.8" transform="rotate(20 240.0 202.4)"/><ellipse cx="212.8" cy="219.9" rx="2.2" ry="5.1" transform="rotate(20 212.8 219.9)"/><ellipse cx="277.6" cy="231.5" rx="2.5" ry="2.9" transform="rotate(20 277.6 231.5)"/><ellipse cx="208.6" cy="201.2" rx="1.6" ry="4.1" transform="rotate(20 208.6 201.2)"/><ellipse cx="257.2" cy="224.3" rx="1.6" ry="4.4" transform="rotate(20 257.2 224.3)"/><ellipse cx="231.5" cy="203.0" rx="1.6" ry="4.9" transform="rotate(20 231.5 203.0)"/><ellipse cx="224.9" cy="203.0" rx="1.6" ry="5.1" transform="rotate(20 224.9 203.0)"/><ellipse cx="277.1" cy="212.0" rx="1.8" ry="4.9" transform="rotate(20 277.1 212.0)"/><ellipse cx="266.3" cy="218.6" rx="1.5" ry="5.5" transform="rotate(20 266.3 218.6)"/><ellipse cx="243.6" cy="200.7" rx="1.4" ry="4.8" transform="rotate(20 243.6 200.7)"/><ellipse cx="206.2" cy="208.2" rx="1.8" ry="5.9" transform="rotate(20 206.2 208.2)"/><ellipse cx="245.5" cy="212.1" rx="1.1" ry="3.7" transform="rotate(20 245.5 212.1)"/><ellipse cx="230.3" cy="199.6" rx="1.7" ry="3.8" transform="rotate(20 230.3 199.6)"/><ellipse cx="243.4" cy="200.8" rx="2.6" ry="4.0" transform="rotate(20 243.4 200.8)"/><ellipse cx="239.6" cy="201.9" rx="2.5" ry="4.9" transform="rotate(20 239.6 201.9)"/><ellipse cx="242.7" cy="200.8" rx="2.2" ry="4.0" transform="rotate(20 242.7 200.8)"/><ellipse cx="253.4" cy="200.2" rx="2.2" ry="3.9" transform="rotate(20 253.4 200.2)"/><ellipse cx="274.9" cy="204.0" rx="1.7" ry="5.9" transform="rotate(20 274.9 204.0)"/><ellipse cx="283.5" cy="206.4" rx="1.4" ry="4.1" transform="rotate(20 283.5 206.4)"/><ellipse cx="224.1" cy="221.7" rx="1.3" ry="4.1" transform="rotate(20 224.1 221.7)"/><ellipse cx="206.2" cy="212.0" rx="2.4" ry="3.2" transform="rotate(20 206.2 212.0)"/><ellipse cx="250.3" cy="203.6" rx="2.5" ry="5.8" transform="rotate(20 250.3 203.6)"/><ellipse cx="202.6" cy="205.3" rx="1.4" ry="5.1" transform="rotate(20 202.6 205.3)"/><ellipse cx="231.3" cy="225.4" rx="1.8" ry="5.9" transform="rotate(20 231.3 225.4)"/><ellipse cx="259.0" cy="202.1" rx="2.0" ry="3.8" transform="rotate(20 259.0 202.1)"/><ellipse cx="231.0" cy="215.2" rx="2.5" ry="3.3" transform="rotate(20 231.0 215.2)"/><ellipse cx="247.8" cy="207.9" rx="2.2" ry="3.0" transform="rotate(20 247.8 207.9)"/><ellipse cx="240.4" cy="223.0" rx="2.2" ry="4.0" transform="rotate(20 240.4 223.0)"/><ellipse cx="204.7" cy="216.0" rx="1.6" ry="3.7" transform="rotate(20 204.7 216.0)"/><ellipse cx="201.8" cy="209.1" rx="2.0" ry="5.7" transform="rotate(20 201.8 209.1)"/><ellipse cx="231.1" cy="217.0" rx="2.5" ry="5.8" transform="rotate(20 231.1 217.0)"/><ellipse cx="283.0" cy="209.3" rx="2.5" ry="2.8" transform="rotate(20 283.0 209.3)"/><ellipse cx="232.7" cy="230.4" rx="1.9" ry="5.4" transform="rotate(20 232.7 230.4)"/><ellipse cx="211.6" cy="210.9" rx="1.9" ry="3.2" transform="rotate(20 211.6 210.9)"/><ellipse cx="238.1" cy="201.0" rx="1.5" ry="3.0" transform="rotate(20 238.1 201.0)"/><ellipse cx="281.3" cy="208.0" rx="2.3" ry="5.1" transform="rotate(20 281.3 208.0)"/><ellipse cx="232.6" cy="220.4" rx="1.4" ry="5.6" transform="rotate(20 232.6 220.4)"/><ellipse cx="236.8" cy="229.5" rx="1.2" ry="2.7" transform="rotate(20 236.8 229.5)"/><ellipse cx="262.1" cy="218.1" rx="1.1" ry="5.4" transform="rotate(20 262.1 218.1)"/><ellipse cx="241.5" cy="228.6" rx="1.9" ry="2.9" transform="rotate(20 241.5 228.6)"/><ellipse cx="260.6" cy="219.8" rx="1.4" ry="5.8" transform="rotate(20 260.6 219.8)"/><ellipse cx="209.3" cy="201.2" rx="1.1" ry="2.7" transform="rotate(20 209.3 201.2)"/><ellipse cx="260.6" cy="201.4" rx="2.3" ry="2.9" transform="rotate(20 260.6 201.4)"/><ellipse cx="263.4" cy="207.8" rx="1.0" ry="5.2" transform="rotate(20 263.4 207.8)"/><ellipse cx="213.1" cy="206.4" rx="2.5" ry="3.2" transform="rotate(20 213.1 206.4)"/><ellipse cx="207.4" cy="211.0" rx="1.7" ry="4.7" transform="rotate(20 207.4 211.0)"/><ellipse cx="254.7" cy="204.9" rx="1.8" ry="4.9" transform="rotate(20 254.7 204.9)"/><ellipse cx="212.2" cy="208.1" rx="1.9" ry="5.7" transform="rotate(20 212.2 208.1)"/><ellipse cx="246.6" cy="221.5" rx="2.3" ry="5.4" transform="rotate(20 246.6 221.5)"/><ellipse cx="224.7" cy="202.7" rx="1.6" ry="5.6" transform="rotate(20 224.7 202.7)"/><ellipse cx="280.3" cy="203.0" rx="1.5" ry="2.9" transform="rotate(20 280.3 203.0)"/><ellipse cx="253.1" cy="227.7" rx="1.1" ry="5.9" transform="rotate(20 253.1 227.7)"/><ellipse cx="221.9" cy="212.9" rx="1.2" ry="2.7" transform="rotate(20 221.9 212.9)"/><ellipse cx="260.2" cy="213.0" rx="1.1" ry="3.6" transform="rotate(20 260.2 213.0)"/><ellipse cx="275.3" cy="216.2" rx="1.7" ry="3.3" transform="rotate(20 275.3 216.2)"/><ellipse cx="202.3" cy="218.2" rx="1.2" ry="4.3" transform="rotate(20 202.3 218.2)"/><ellipse cx="278.4" cy="231.2" rx="1.2" ry="5.2" transform="rotate(20 278.4 231.2)"/><ellipse cx="209.6" cy="217.3" rx="2.6" ry="4.4" transform="rotate(20 209.6 217.3)"/><ellipse cx="236.7" cy="208.3" rx="2.6" ry="4.0" transform="rotate(20 236.7 208.3)"/><ellipse cx="217.6" cy="216.5" rx="1.6" ry="4.7" transform="rotate(20 217.6 216.5)"/><ellipse cx="277.2" cy="210.1" rx="1.8" ry="3.0" transform="rotate(20 277.2 210.1)"/><ellipse cx="242.0" cy="208.7" rx="1.4" ry="4.1" transform="rotate(20 242.0 208.7)"/><ellipse cx="263.7" cy="219.6" rx="1.3" ry="4.9" transform="rotate(20 263.7 219.6)"/><ellipse cx="261.2" cy="202.5" rx="1.2" ry="3.1" transform="rotate(20 261.2 202.5)"/><ellipse cx="207.5" cy="214.2" rx="2.4" ry="3.1" transform="rotate(20 207.5 214.2)"/><ellipse cx="258.7" cy="202.6" rx="1.4" ry="3.7" transform="rotate(20 258.7 202.6)"/><ellipse cx="204.4" cy="223.5" rx="2.2" ry="3.7" transform="rotate(20 204.4 223.5)"/><ellipse cx="249.7" cy="220.7" rx="2.4" ry="5.7" transform="rotate(20 249.7 220.7)"/></g>
<g fill="#303060" opacity="0.7"><circle cx="223.7" cy="175.4" r="1.5"/><circle cx="211.2" cy="178.5" r="1.1"/><circle cx="282.0" cy="167.7" r="1.3"/><circle cx="263.6" cy="189.9" r="0.8"/><circle cx="279.3" cy="174.6" r="1.5"/><circle cx="255.6" cy="178.6" r="1.5"/><circle cx="256.8" cy="175.6" r="1.4"/><circle cx="242.4" cy="189.3" r="1.3"/><circle cx="266.9" cy="168.9" r="1.2"/><circle cx="200.1" cy="192.3" r="1.4"/><circle cx="270.3" cy="164.6" r="1.2"/><circle cx="240.2" cy="167.4" r="1.0"/><circle cx="281.8" cy="194.5" r="1.0"/><circle cx="269.6" cy="187.1" r="1.1"/><circle cx="254.2" cy="171.5" r="1.0"/><circle cx="200.8" cy="187.3" r="1.3"/><circle cx="262.4" cy="181.6" r="1.1"/><circle cx="225.7" cy="190.2" r="1.1"/><circle cx="250.1" cy="191.0" r="1.2"/><circle cx="257.6" cy="165.3" r="1.0"/><circle cx="270.6" cy="168.5" r="0.8"/><circle cx="201.2" cy="191.3" r="0.9"/><circle cx="238.5" cy="179.2" r="1.4"/><circle cx="240.0" cy="182.3" r="0.8"/><circle cx="266.8" cy="191.4" r="1.3"/></g>
<rect x="198" y="155" width="2.2" height="78" fill="#262626"/>
<path d="M210.0,199.0 Q211.0,215.0 210.5,231.0" stroke="#9a9ab8" stroke-width="1.2" fill="none" opacity="1"/>
<path d="M225.6,199.0 Q223.6,215.0 224.6,231.0" stroke="#9a9ab8" stroke-width="1.2" fill="none" opacity="1"/>
<path d="M240.2,199.0 Q240.2,215.0 240.2,231.0" stroke="#9a9ab8" stroke-width="1.2" fill="none" opacity="1"/>
<path d="M256.3,199.0 Q258.3,215.0 257.3,231.0" stroke="#9a9ab8" stroke-width="1.2" fill="none" opacity="1"/>
<path d="M273.4,199.0 Q272.4,215.0 272.9,231.0" stroke="#9a9ab8" stroke-width="1.2" fill="none" opacity="1"/>
<path d="M209.5,165.2 Q210.0,164.5 210.5,165.2 Q211.1,165.9 211.8,167.4 Q212.6,168.8 213.3,171.0 Q214.1,173.1 214.8,175.8 Q215.5,178.5 216.1,181.2 Q216.6,183.9 216.9,186.8 Q217.2,189.7 217.4,192.2 Q217.6,194.7 217.4,196.2 Q217.3,197.6 216.7,198.5 Q216.1,199.4 213.0,200.0 Q210.0,200.5 207.0,200.0 Q203.9,199.4 203.3,198.5 Q202.7,197.6 202.6,196.2 Q202.4,194.7 202.6,192.2 Q202.8,189.7 203.1,186.8 Q203.4,183.9 203.9,181.2 Q204.5,178.5 205.2,175.8 Q205.9,173.1 206.7,171.0 Q207.4,168.8 208.2,167.4 Q208.9,165.9 209.5,165.2Z" fill="#40c8f0" filter="url(#bl1)"/>
<ellipse cx="210.0" cy="176.0" rx="4.5" ry="7" fill="#60e8c0" opacity="1" filter="url(#bl1)"/>
<ellipse cx="210.0" cy="188.5" rx="7.5" ry="1.3" fill="#2030e0" opacity="0.9" filter="url(#bl1)"/>
<ellipse cx="210.0" cy="195.0" rx="6.5" ry="3.5" fill="#70f0a8" opacity="1" filter="url(#bl1)"/>
<path d="M225.1,165.2 Q225.6,164.5 226.1,165.2 Q226.7,165.9 227.4,167.4 Q228.2,168.8 228.9,171.0 Q229.7,173.1 230.4,175.8 Q231.1,178.5 231.7,181.2 Q232.2,183.9 232.5,186.8 Q232.8,189.7 233.0,192.2 Q233.2,194.7 233.0,196.2 Q232.9,197.6 232.3,198.5 Q231.7,199.4 228.6,200.0 Q225.6,200.5 222.6,200.0 Q219.5,199.4 218.9,198.5 Q218.3,197.6 218.2,196.2 Q218.0,194.7 218.2,192.2 Q218.4,189.7 218.7,186.8 Q219.0,183.9 219.5,181.2 Q220.1,178.5 220.8,175.8 Q221.5,173.1 222.3,171.0 Q223.0,168.8 223.8,167.4 Q224.5,165.9 225.1,165.2Z" fill="#40c8f0" filter="url(#bl1)"/>
<ellipse cx="225.6" cy="176.0" rx="4.5" ry="7" fill="#60e8c0" opacity="1" filter="url(#bl1)"/>
<ellipse cx="225.6" cy="188.5" rx="7.5" ry="1.3" fill="#2030e0" opacity="0.9" filter="url(#bl1)"/>
<ellipse cx="225.6" cy="195.0" rx="6.5" ry="3.5" fill="#70f0a8" opacity="1" filter="url(#bl1)"/>
<path d="M239.7,165.2 Q240.2,164.5 240.7,165.2 Q241.3,165.9 242.0,167.4 Q242.8,168.8 243.5,171.0 Q244.3,173.1 245.0,175.8 Q245.7,178.5 246.3,181.2 Q246.8,183.9 247.1,186.8 Q247.4,189.7 247.6,192.2 Q247.8,194.7 247.6,196.2 Q247.5,197.6 246.9,198.5 Q246.3,199.4 243.2,200.0 Q240.2,200.5 237.2,200.0 Q234.1,199.4 233.5,198.5 Q232.9,197.6 232.8,196.2 Q232.6,194.7 232.8,192.2 Q233.0,189.7 233.3,186.8 Q233.6,183.9 234.1,181.2 Q234.7,178.5 235.4,175.8 Q236.1,173.1 236.9,171.0 Q237.6,168.8 238.4,167.4 Q239.1,165.9 239.7,165.2Z" fill="#40c8f0" filter="url(#bl1)"/>
<ellipse cx="240.2" cy="176.0" rx="4.5" ry="7" fill="#60e8c0" opacity="1" filter="url(#bl1)"/>
<ellipse cx="240.2" cy="188.5" rx="7.5" ry="1.3" fill="#2030e0" opacity="0.9" filter="url(#bl1)"/>
<ellipse cx="240.2" cy="195.0" rx="6.5" ry="3.5" fill="#70f0a8" opacity="1" filter="url(#bl1)"/>
<path d="M255.8,165.2 Q256.3,164.5 256.8,165.2 Q257.4,165.9 258.1,167.4 Q258.9,168.8 259.6,171.0 Q260.4,173.1 261.1,175.8 Q261.8,178.5 262.4,181.2 Q262.9,183.9 263.2,186.8 Q263.5,189.7 263.7,192.2 Q263.9,194.7 263.7,196.2 Q263.6,197.6 263.0,198.5 Q262.4,199.4 259.3,200.0 Q256.3,200.5 253.3,200.0 Q250.2,199.4 249.6,198.5 Q249.0,197.6 248.9,196.2 Q248.7,194.7 248.9,192.2 Q249.1,189.7 249.4,186.8 Q249.7,183.9 250.2,181.2 Q250.8,178.5 251.5,175.8 Q252.2,173.1 253.0,171.0 Q253.7,168.8 254.5,167.4 Q255.2,165.9 255.8,165.2Z" fill="#40c8f0" filter="url(#bl1)"/>
<ellipse cx="256.3" cy="176.0" rx="4.5" ry="7" fill="#60e8c0" opacity="1" filter="url(#bl1)"/>
<ellipse cx="256.3" cy="188.5" rx="7.5" ry="1.3" fill="#2030e0" opacity="0.9" filter="url(#bl1)"/>
<ellipse cx="256.3" cy="195.0" rx="6.5" ry="3.5" fill="#70f0a8" opacity="1" filter="url(#bl1)"/>
<path d="M272.9,165.2 Q273.4,164.5 273.9,165.2 Q274.5,165.9 275.2,167.4 Q276.0,168.8 276.7,171.0 Q277.5,173.1 278.2,175.8 Q278.9,178.5 279.5,181.2 Q280.0,183.9 280.3,186.8 Q280.6,189.7 280.8,192.2 Q281.0,194.7 280.8,196.2 Q280.7,197.6 280.1,198.5 Q279.5,199.4 276.4,200.0 Q273.4,200.5 270.4,200.0 Q267.3,199.4 266.7,198.5 Q266.1,197.6 266.0,196.2 Q265.8,194.7 266.0,192.2 Q266.2,189.7 266.5,186.8 Q266.8,183.9 267.3,181.2 Q267.9,178.5 268.6,175.8 Q269.3,173.1 270.1,171.0 Q270.8,168.8 271.6,167.4 Q272.3,165.9 272.9,165.2Z" fill="#40c8f0" filter="url(#bl1)"/>
<ellipse cx="273.4" cy="176.0" rx="4.5" ry="7" fill="#60e8c0" opacity="1" filter="url(#bl1)"/>
<ellipse cx="273.4" cy="188.5" rx="7.5" ry="1.3" fill="#2030e0" opacity="0.9" filter="url(#bl1)"/>
<ellipse cx="273.4" cy="195.0" rx="6.5" ry="3.5" fill="#70f0a8" opacity="1" filter="url(#bl1)"/>
<ellipse cx="210.0" cy="175.0" rx="5" ry="6.5" fill="#f0e020" opacity="1" filter="url(#bl1)"/>
<ellipse cx="209.3" cy="175.9" rx="3.3" ry="3.2" fill="#e81010" opacity="1" filter="url(#bl1)"/>
<ellipse cx="207.0" cy="194.0" rx="4.8" ry="3.3" fill="#f0d020" opacity="1" filter="url(#bl1)"/>
<ellipse cx="204.8" cy="194.0" rx="2.6" ry="2.2" fill="#e81010" opacity="1" filter="url(#bl1)"/>
<ellipse cx="212.2" cy="194.0" rx="2.2" ry="2" fill="#e81010" opacity="1" filter="url(#bl1)"/>
<ellipse cx="225.2" cy="179.0" rx="2.4" ry="2.4" fill="#f0e020" opacity="1" filter="url(#bl1)"/>
<ellipse cx="227.9" cy="188.0" rx="1.6" ry="1.6" fill="#f0f0f0" opacity="1" filter="url(#bl1)"/>
<ellipse cx="240.2" cy="180.6" rx="3.2" ry="3.2" fill="#f0e020" opacity="1" filter="url(#bl1)"/>
<ellipse cx="240.2" cy="180.6" rx="1.5" ry="1.5" fill="#e81010" opacity="1" filter="url(#bl1)"/>
<ellipse cx="236.0" cy="172.0" rx="2" ry="3" fill="#2030e0" opacity="0.7" filter="url(#bl1)"/>
<ellipse cx="244.0" cy="172.0" rx="2" ry="3" fill="#2030e0" opacity="0.7" filter="url(#bl1)"/>
<ellipse cx="256.3" cy="183.0" rx="2" ry="2" fill="#a0f040" opacity="1" filter="url(#bl1)"/>
<ellipse cx="253.0" cy="175.0" rx="1.6" ry="2.5" fill="#2030e0" opacity="0.7" filter="url(#bl1)"/>
<ellipse cx="259.0" cy="178.0" rx="1.6" ry="2.5" fill="#2030e0" opacity="0.7" filter="url(#bl1)"/>
<ellipse cx="274.5" cy="178.0" rx="4.6" ry="6.5" fill="#f0e020" opacity="1" filter="url(#bl1)"/>
<ellipse cx="274.5" cy="177.4" rx="3.2" ry="3.6" fill="#e81010" opacity="1" filter="url(#bl1)"/>
<ellipse cx="269.0" cy="190.5" rx="2.6" ry="2.2" fill="#e81010" opacity="1" filter="url(#bl1)"/>
<ellipse cx="278.5" cy="191.0" rx="2" ry="2" fill="#e81010" opacity="1" filter="url(#bl1)"/>
<ellipse cx="274.0" cy="194.0" rx="3" ry="2" fill="#f0d020" opacity="1" filter="url(#bl1)"/>
<rect x="30" y="232.5" width="82.7" height="86.5" fill="url(#p7bg)"/>
<path d="M40.2,271 L43.8,271 L42.4,294 L41.6,294 Z" fill="#a8f0c0" opacity="0.7" filter="url(#bl2)"/>
<path d="M40.8,271 L43.2,271 L42.2,294 L41.8,294 Z" fill="#f0b020"/>
<path d="M54.5,271 L58.1,271 L55.7,290 L54.9,290 Z" fill="#a8f0c0" opacity="0.7" filter="url(#bl2)"/>
<path d="M55.1,271 L57.5,271 L55.5,290 L55.1,290 Z" fill="#f0b020"/>
<path d="M68.9,271 L72.5,271 L71.1,298 L70.3,298 Z" fill="#a8f0c0" opacity="0.7" filter="url(#bl2)"/>
<path d="M69.5,271 L71.9,271 L70.9,298 L70.5,298 Z" fill="#f0b020"/>
<path d="M84.9,271 L88.5,271 L88.1,292 L87.3,292 Z" fill="#a8f0c0" opacity="0.7" filter="url(#bl2)"/>
<path d="M85.5,271 L87.9,271 L87.9,292 L87.5,292 Z" fill="#f0b020"/>
<path d="M100.5,271 L104.1,271 L102.7,300 L101.9,300 Z" fill="#a8f0c0" opacity="0.7" filter="url(#bl2)"/>
<path d="M101.1,271 L103.5,271 L102.5,300 L102.1,300 Z" fill="#f0b020"/>
<g fill="#f0d020" filter="url(#bl1)">
<path d="M42.0,233.6 C44.0,234.1 49.7,237.1 49.7,240.6 L50.0,262 L34.0,262 L34.3,240.6 C34.3,237.1 40.0,234.1 42.0,233.6 Z"/>
<ellipse cx="42.0" cy="263" rx="9.8" ry="9.8"/>
<path d="M56.3,233.6 C58.3,234.1 64.0,237.1 64.0,240.6 L64.3,262 L48.3,262 L48.6,240.6 C48.6,237.1 54.3,234.1 56.3,233.6 Z"/>
<ellipse cx="56.3" cy="263" rx="9.8" ry="9.8"/>
<path d="M70.7,233.6 C72.7,234.1 78.4,237.1 78.4,240.6 L78.7,262 L62.7,262 L63.0,240.6 C63.0,237.1 68.7,234.1 70.7,233.6 Z"/>
<ellipse cx="70.7" cy="263" rx="9.8" ry="9.8"/>
<path d="M86.7,233.6 C88.7,234.1 94.4,237.1 94.4,240.6 L94.7,262 L78.7,262 L79.0,240.6 C79.0,237.1 84.7,234.1 86.7,233.6 Z"/>
<ellipse cx="86.7" cy="263" rx="9.8" ry="9.8"/>
<path d="M102.3,233.6 C104.3,234.1 110.0,237.1 110.0,240.6 L110.3,262 L94.3,262 L94.6,240.6 C94.6,237.1 100.3,234.1 102.3,233.6 Z"/>
<ellipse cx="102.3" cy="263" rx="9.8" ry="9.8"/>
</g>
<g fill="#e81408">
<path d="M42.0,234.5 C44.0,235.0 48.9,238.0 48.9,241.5 L49.2,262 L34.8,262 L35.1,241.5 C35.1,238.0 40.0,235.0 42.0,234.5 Z"/>
<ellipse cx="42.0" cy="263" rx="8.8" ry="8.4"/>
<path d="M34.0,268 L37.0,274 L39.0,270 Z M50.0,268 L47.0,274 L45.0,270 Z"/>
<path d="M56.3,234.5 C58.3,235.0 63.2,238.0 63.2,241.5 L63.5,262 L49.1,262 L49.4,241.5 C49.4,238.0 54.3,235.0 56.3,234.5 Z"/>
<ellipse cx="56.3" cy="263" rx="8.8" ry="8.4"/>
<path d="M48.3,268 L51.3,274 L53.3,270 Z M64.3,268 L61.3,274 L59.3,270 Z"/>
<path d="M70.7,234.5 C72.7,235.0 77.6,238.0 77.6,241.5 L77.9,262 L63.5,262 L63.8,241.5 C63.8,238.0 68.7,235.0 70.7,234.5 Z"/>
<ellipse cx="70.7" cy="263" rx="8.8" ry="8.4"/>
<path d="M62.7,268 L65.7,274 L67.7,270 Z M78.7,268 L75.7,274 L73.7,270 Z"/>
<path d="M86.7,234.5 C88.7,235.0 93.6,238.0 93.6,241.5 L93.9,262 L79.5,262 L79.8,241.5 C79.8,238.0 84.7,235.0 86.7,234.5 Z"/>
<ellipse cx="86.7" cy="263" rx="8.8" ry="8.4"/>
<path d="M78.7,268 L81.7,274 L83.7,270 Z M94.7,268 L91.7,274 L89.7,270 Z"/>
<path d="M102.3,234.5 C104.3,235.0 109.2,238.0 109.2,241.5 L109.5,262 L95.1,262 L95.4,241.5 C95.4,238.0 100.3,235.0 102.3,234.5 Z"/>
<ellipse cx="102.3" cy="263" rx="8.8" ry="8.4"/>
<path d="M94.3,268 L97.3,274 L99.3,270 Z M110.3,268 L107.3,274 L105.3,270 Z"/>
<rect x="33" y="257" width="78" height="9" />
</g>
<ellipse cx="39.0" cy="255.8" rx="2.8" ry="0.9" fill="#f0d020" opacity="0.9" filter="url(#bl1)"/>
<ellipse cx="45.0" cy="256.3" rx="2.2" ry="0.8" fill="#f8e080" opacity="0.8" filter="url(#bl1)"/>
<ellipse cx="53.3" cy="255.8" rx="2.8" ry="0.9" fill="#f0d020" opacity="0.9" filter="url(#bl1)"/>
<ellipse cx="59.3" cy="256.3" rx="2.2" ry="0.8" fill="#f8e080" opacity="0.8" filter="url(#bl1)"/>
<ellipse cx="67.7" cy="255.8" rx="2.8" ry="0.9" fill="#f0d020" opacity="0.9" filter="url(#bl1)"/>
<ellipse cx="73.7" cy="256.3" rx="2.2" ry="0.8" fill="#f8e080" opacity="0.8" filter="url(#bl1)"/>
<ellipse cx="83.7" cy="255.8" rx="2.8" ry="0.9" fill="#f0d020" opacity="0.9" filter="url(#bl1)"/>
<ellipse cx="89.7" cy="256.3" rx="2.2" ry="0.8" fill="#f8e080" opacity="0.8" filter="url(#bl1)"/>
<ellipse cx="99.3" cy="255.8" rx="2.8" ry="0.9" fill="#f0d020" opacity="0.9" filter="url(#bl1)"/>
<ellipse cx="105.3" cy="256.3" rx="2.2" ry="0.8" fill="#f8e080" opacity="0.8" filter="url(#bl1)"/>
<rect x="112.7" y="232.5" width="2" height="86.5" fill="#262626"/>
<path d="M122.2,261.5 L118.4,266.0 M131.8,261.5 L135.6,266.0" stroke="#c8c8c8" stroke-width="1.6" stroke-linecap="round" fill="none"/>
<path d="M137.2,261.5 L133.4,266.0 M146.8,261.5 L150.6,266.0" stroke="#c8c8c8" stroke-width="1.6" stroke-linecap="round" fill="none"/>
<path d="M152.8,261.5 L149.0,266.0 M162.4,261.5 L166.2,266.0" stroke="#c8c8c8" stroke-width="1.6" stroke-linecap="round" fill="none"/>
<path d="M168.6,261.5 L164.8,266.0 M178.2,261.5 L182.0,266.0" stroke="#c8c8c8" stroke-width="1.6" stroke-linecap="round" fill="none"/>
<path d="M184.2,261.5 L180.4,266.0 M193.8,261.5 L197.6,266.0" stroke="#c8c8c8" stroke-width="1.6" stroke-linecap="round" fill="none"/>
<path d="M127.0,263.3 Q128.0,283.1 127.5,303.0" stroke="#b4b4b4" stroke-width="1.3" fill="none" opacity="1"/>
<path d="M142.0,263.3 Q139.0,283.1 140.5,303.0" stroke="#b4b4b4" stroke-width="1.3" fill="none" opacity="1"/>
<path d="M157.6,263.3 Q158.6,283.1 158.1,303.0" stroke="#b4b4b4" stroke-width="1.3" fill="none" opacity="1"/>
<path d="M173.4,263.3 Q173.4,283.1 173.4,303.0" stroke="#b4b4b4" stroke-width="1.3" fill="none" opacity="1"/>
<path d="M189.0,263.3 Q187.0,283.1 188.0,303.0" stroke="#b4b4b4" stroke-width="1.3" fill="none" opacity="1"/>
<path d="M126.5,233.0 Q127.0,232.3 127.5,233.0 Q128.0,233.6 128.7,234.9 Q129.4,236.3 130.1,238.2 Q130.8,240.2 131.4,242.7 Q132.1,245.2 132.6,247.6 Q133.1,250.1 133.4,252.8 Q133.7,255.4 133.8,257.7 Q134.0,260.0 133.9,261.3 Q133.7,262.7 133.2,263.5 Q132.6,264.3 129.8,264.8 Q127.0,265.3 124.2,264.8 Q121.4,264.3 120.8,263.5 Q120.3,262.7 120.1,261.3 Q120.0,260.0 120.2,257.7 Q120.3,255.4 120.6,252.8 Q120.9,250.1 121.4,247.6 Q121.9,245.2 122.6,242.7 Q123.2,240.2 123.9,238.2 Q124.6,236.3 125.3,234.9 Q126.0,233.6 126.5,233.0Z" fill="url(#mouseg)"/>
<path d="M141.5,233.0 Q142.0,232.3 142.5,233.0 Q143.0,233.6 143.7,234.9 Q144.4,236.3 145.1,238.2 Q145.8,240.2 146.4,242.7 Q147.1,245.2 147.6,247.6 Q148.1,250.1 148.4,252.8 Q148.7,255.4 148.8,257.7 Q149.0,260.0 148.9,261.3 Q148.7,262.7 148.2,263.5 Q147.6,264.3 144.8,264.8 Q142.0,265.3 139.2,264.8 Q136.4,264.3 135.8,263.5 Q135.3,262.7 135.1,261.3 Q135.0,260.0 135.2,257.7 Q135.3,255.4 135.6,252.8 Q135.9,250.1 136.4,247.6 Q136.9,245.2 137.6,242.7 Q138.2,240.2 138.9,238.2 Q139.6,236.3 140.3,234.9 Q141.0,233.6 141.5,233.0Z" fill="url(#mouseg)"/>
<path d="M157.1,233.0 Q157.6,232.3 158.1,233.0 Q158.6,233.6 159.3,234.9 Q160.0,236.3 160.7,238.2 Q161.4,240.2 162.0,242.7 Q162.7,245.2 163.2,247.6 Q163.7,250.1 164.0,252.8 Q164.2,255.4 164.4,257.7 Q164.6,260.0 164.5,261.3 Q164.3,262.7 163.8,263.5 Q163.2,264.3 160.4,264.8 Q157.6,265.3 154.8,264.8 Q152.0,264.3 151.4,263.5 Q150.9,262.7 150.7,261.3 Q150.6,260.0 150.8,257.7 Q150.9,255.4 151.2,252.8 Q151.5,250.1 152.0,247.6 Q152.5,245.2 153.2,242.7 Q153.8,240.2 154.5,238.2 Q155.2,236.3 155.9,234.9 Q156.6,233.6 157.1,233.0Z" fill="url(#mouseg)"/>
<path d="M172.9,233.0 Q173.4,232.3 173.9,233.0 Q174.4,233.6 175.1,234.9 Q175.8,236.3 176.5,238.2 Q177.2,240.2 177.8,242.7 Q178.5,245.2 179.0,247.6 Q179.5,250.1 179.8,252.8 Q180.1,255.4 180.2,257.7 Q180.4,260.0 180.3,261.3 Q180.1,262.7 179.6,263.5 Q179.0,264.3 176.2,264.8 Q173.4,265.3 170.6,264.8 Q167.8,264.3 167.2,263.5 Q166.7,262.7 166.5,261.3 Q166.4,260.0 166.6,257.7 Q166.8,255.4 167.0,252.8 Q167.3,250.1 167.8,247.6 Q168.3,245.2 169.0,242.7 Q169.6,240.2 170.3,238.2 Q171.0,236.3 171.7,234.9 Q172.4,233.6 172.9,233.0Z" fill="url(#mouseg)"/>
<path d="M188.5,233.0 Q189.0,232.3 189.5,233.0 Q190.0,233.6 190.7,234.9 Q191.4,236.3 192.1,238.2 Q192.8,240.2 193.4,242.7 Q194.1,245.2 194.6,247.6 Q195.1,250.1 195.4,252.8 Q195.7,255.4 195.8,257.7 Q196.0,260.0 195.9,261.3 Q195.7,262.7 195.2,263.5 Q194.6,264.3 191.8,264.8 Q189.0,265.3 186.2,264.8 Q183.4,264.3 182.8,263.5 Q182.3,262.7 182.1,261.3 Q182.0,260.0 182.2,257.7 Q182.3,255.4 182.6,252.8 Q182.9,250.1 183.4,247.6 Q183.9,245.2 184.6,242.7 Q185.2,240.2 185.9,238.2 Q186.6,236.3 187.3,234.9 Q188.0,233.6 188.5,233.0Z" fill="url(#mouseg)"/>
<ellipse cx="129.5" cy="247.0" rx="2.2" ry="2.2" fill="#2a5ae8" opacity="1" filter="url(#bl1)"/>
<ellipse cx="126.7" cy="242.0" rx="1.4" ry="1.4" fill="#2a5ae8" opacity="0.8" filter="url(#bl1)"/>
<ellipse cx="142.0" cy="262.5" rx="2.5" ry="2.2" fill="#2a7ae8" opacity="1" filter="url(#bl1)"/>
<ellipse cx="139.0" cy="246.0" rx="1.3" ry="1.3" fill="#2a5ae8" opacity="0.7" filter="url(#bl1)"/>
<ellipse cx="157.6" cy="245.0" rx="4" ry="4.5" fill="#f0e020" opacity="1" filter="url(#bl1)"/>
<ellipse cx="157.6" cy="245.4" rx="2.6" ry="2.2" fill="#e81010" opacity="1" filter="url(#bl1)"/>
<ellipse cx="157.6" cy="239.5" rx="3" ry="2" fill="#40d0e0" opacity="1" filter="url(#bl1)"/>
<ellipse cx="155.5" cy="253.5" rx="3" ry="3" fill="#f0e020" opacity="1" filter="url(#bl1)"/>
<ellipse cx="155.5" cy="253.5" rx="1.8" ry="2" fill="#e81010" opacity="1" filter="url(#bl1)"/>
<ellipse cx="157.0" cy="262.5" rx="4" ry="2.3" fill="#2a40e6" opacity="1" filter="url(#bl1)"/>
<ellipse cx="161.0" cy="259.0" rx="1.8" ry="1.8" fill="#2a40e6" opacity="1" filter="url(#bl1)"/>
<ellipse cx="170.5" cy="243.0" rx="1.6" ry="1.6" fill="#2a50e8" opacity="1" filter="url(#bl1)"/>
<ellipse cx="173.4" cy="265.0" rx="2.4" ry="2.2" fill="#2a7ae8" opacity="1" filter="url(#bl1)"/>
<ellipse cx="189.5" cy="243.0" rx="4" ry="3.2" fill="#f0d020" opacity="1" filter="url(#bl1)"/>
<ellipse cx="189.5" cy="243.0" rx="2.8" ry="2" fill="#e81010" opacity="1" filter="url(#bl1)"/>
<ellipse cx="187.0" cy="249.0" rx="1.6" ry="1.6" fill="#2a50e8" opacity="1" filter="url(#bl1)"/>
<ellipse cx="191.0" cy="256.0" rx="1.6" ry="1.6" fill="#2a50e8" opacity="1" filter="url(#bl1)"/>
<ellipse cx="188.0" cy="263.0" rx="1.8" ry="1.8" fill="#2a50e8" opacity="1" filter="url(#bl1)"/>
<path d="M205.0,262.5 L201.2,267.0 M214.2,262.5 L218.0,267.0" stroke="#c8c8c8" stroke-width="1.6" stroke-linecap="round" fill="none"/>
<path d="M220.7,262.5 L216.9,267.0 M229.9,262.5 L233.7,267.0" stroke="#c8c8c8" stroke-width="1.6" stroke-linecap="round" fill="none"/>
<path d="M236.4,262.5 L232.6,267.0 M245.6,262.5 L249.4,267.0" stroke="#c8c8c8" stroke-width="1.6" stroke-linecap="round" fill="none"/>
<path d="M252.1,262.5 L248.3,267.0 M261.3,262.5 L265.1,267.0" stroke="#c8c8c8" stroke-width="1.6" stroke-linecap="round" fill="none"/>
<path d="M267.0,262.5 L263.2,267.0 M276.2,262.5 L280.0,267.0" stroke="#c8c8c8" stroke-width="1.6" stroke-linecap="round" fill="none"/>
<path d="M209.6,264.0 Q209.6,283.5 209.6,303.0" stroke="#b4b4b4" stroke-width="1.3" fill="none" opacity="1"/>
<path d="M225.3,264.0 Q222.3,283.5 223.8,303.0" stroke="#b4b4b4" stroke-width="1.3" fill="none" opacity="1"/>
<path d="M241.0,264.0 Q243.0,283.5 242.0,303.0" stroke="#b4b4b4" stroke-width="1.3" fill="none" opacity="1"/>
<path d="M256.7,264.0 Q257.7,283.5 257.2,303.0" stroke="#b4b4b4" stroke-width="1.3" fill="none" opacity="1"/>
<path d="M271.6,264.0 Q271.6,283.5 271.6,303.0" stroke="#b4b4b4" stroke-width="1.3" fill="none" opacity="1"/>
<path d="M209.1,234.2 Q209.6,233.5 210.1,234.2 Q210.6,234.8 211.2,236.1 Q211.9,237.4 212.6,239.4 Q213.3,241.3 213.9,243.7 Q214.6,246.2 215.0,248.6 Q215.5,251.1 215.8,253.7 Q216.1,256.2 216.2,258.5 Q216.4,260.8 216.3,262.1 Q216.1,263.4 215.6,264.2 Q215.0,265.0 212.3,265.5 Q209.6,266.0 206.9,265.5 Q204.2,265.0 203.6,264.2 Q203.1,263.4 202.9,262.1 Q202.8,260.8 203.0,258.5 Q203.1,256.2 203.4,253.7 Q203.7,251.1 204.2,248.6 Q204.6,246.2 205.3,243.7 Q205.9,241.3 206.6,239.4 Q207.3,237.4 208.0,236.1 Q208.6,234.8 209.1,234.2Z" fill="url(#mouseg)"/>
<path d="M224.8,234.2 Q225.3,233.5 225.8,234.2 Q226.3,234.8 226.9,236.1 Q227.6,237.4 228.3,239.4 Q229.0,241.3 229.6,243.7 Q230.3,246.2 230.7,248.6 Q231.2,251.1 231.5,253.7 Q231.8,256.2 231.9,258.5 Q232.1,260.8 232.0,262.1 Q231.8,263.4 231.3,264.2 Q230.7,265.0 228.0,265.5 Q225.3,266.0 222.6,265.5 Q219.9,265.0 219.3,264.2 Q218.8,263.4 218.6,262.1 Q218.5,260.8 218.7,258.5 Q218.8,256.2 219.1,253.7 Q219.4,251.1 219.9,248.6 Q220.3,246.2 221.0,243.7 Q221.6,241.3 222.3,239.4 Q223.0,237.4 223.7,236.1 Q224.3,234.8 224.8,234.2Z" fill="url(#mouseg)"/>
<path d="M240.5,234.2 Q241.0,233.5 241.5,234.2 Q242.0,234.8 242.6,236.1 Q243.3,237.4 244.0,239.4 Q244.7,241.3 245.3,243.7 Q246.0,246.2 246.4,248.6 Q246.9,251.1 247.2,253.7 Q247.5,256.2 247.6,258.5 Q247.8,260.8 247.7,262.1 Q247.5,263.4 247.0,264.2 Q246.4,265.0 243.7,265.5 Q241.0,266.0 238.3,265.5 Q235.6,265.0 235.0,264.2 Q234.5,263.4 234.3,262.1 Q234.2,260.8 234.4,258.5 Q234.5,256.2 234.8,253.7 Q235.1,251.1 235.6,248.6 Q236.0,246.2 236.7,243.7 Q237.3,241.3 238.0,239.4 Q238.7,237.4 239.4,236.1 Q240.0,234.8 240.5,234.2Z" fill="url(#mouseg)"/>
<path d="M256.2,234.2 Q256.7,233.5 257.2,234.2 Q257.7,234.8 258.3,236.1 Q259.0,237.4 259.7,239.4 Q260.4,241.3 261.0,243.7 Q261.7,246.2 262.1,248.6 Q262.6,251.1 262.9,253.7 Q263.2,256.2 263.3,258.5 Q263.5,260.8 263.4,262.1 Q263.2,263.4 262.7,264.2 Q262.1,265.0 259.4,265.5 Q256.7,266.0 254.0,265.5 Q251.3,265.0 250.7,264.2 Q250.2,263.4 250.0,262.1 Q249.9,260.8 250.1,258.5 Q250.2,256.2 250.5,253.7 Q250.8,251.1 251.3,248.6 Q251.7,246.2 252.4,243.7 Q253.0,241.3 253.7,239.4 Q254.4,237.4 255.1,236.1 Q255.7,234.8 256.2,234.2Z" fill="url(#mouseg)"/>
<path d="M271.1,234.2 Q271.6,233.5 272.1,234.2 Q272.6,234.8 273.2,236.1 Q273.9,237.4 274.6,239.4 Q275.3,241.3 275.9,243.7 Q276.6,246.2 277.0,248.6 Q277.5,251.1 277.8,253.7 Q278.1,256.2 278.2,258.5 Q278.4,260.8 278.3,262.1 Q278.1,263.4 277.6,264.2 Q277.0,265.0 274.3,265.5 Q271.6,266.0 268.9,265.5 Q266.2,265.0 265.6,264.2 Q265.1,263.4 264.9,262.1 Q264.8,260.8 265.0,258.5 Q265.1,256.2 265.4,253.7 Q265.7,251.1 266.2,248.6 Q266.6,246.2 267.3,243.7 Q267.9,241.3 268.6,239.4 Q269.3,237.4 270.0,236.1 Q270.6,234.8 271.1,234.2Z" fill="url(#mouseg)"/>
<path d="M209.1,234.2 Q209.6,233.5 210.1,234.2 Q210.6,234.8 211.3,236.1 Q211.9,237.4 212.6,239.4 Q213.3,241.3 214.0,243.7 Q214.6,246.2 215.1,248.6 Q215.6,251.1 215.9,253.7 Q216.2,256.2 216.3,258.5 Q216.5,260.8 216.4,262.1 Q216.2,263.4 215.7,264.2 Q215.1,265.0 212.4,265.5 Q209.6,266.0 206.8,265.5 Q204.1,265.0 203.5,264.2 Q203.0,263.4 202.8,262.1 Q202.7,260.8 202.9,258.5 Q203.0,256.2 203.3,253.7 Q203.6,251.1 204.1,248.6 Q204.6,246.2 205.2,243.7 Q205.9,241.3 206.6,239.4 Q207.3,237.4 207.9,236.1 Q208.6,234.8 209.1,234.2Z" fill="#2a40e0"/>
<path d="M209.2,235.6 Q209.6,235.0 210.0,235.6 Q210.4,236.2 211.0,237.4 Q211.6,238.6 212.2,240.4 Q212.8,242.2 213.4,244.4 Q214.0,246.7 214.4,248.9 Q214.8,251.2 215.1,253.6 Q215.3,256.0 215.4,258.1 Q215.6,260.2 215.5,261.4 Q215.4,262.6 214.9,263.4 Q214.4,264.1 212.0,264.6 Q209.6,265.0 207.2,264.6 Q204.8,264.1 204.3,263.4 Q203.8,262.6 203.7,261.4 Q203.6,260.2 203.8,258.1 Q203.9,256.0 204.1,253.6 Q204.4,251.2 204.8,248.9 Q205.2,246.7 205.8,244.4 Q206.4,242.2 207.0,240.4 Q207.6,238.6 208.2,237.4 Q208.8,236.2 209.2,235.6Z" fill="#50d8d0" filter="url(#bl1)"/>
<ellipse cx="209.6" cy="244.0" rx="5" ry="9" fill="#b8f040" opacity="1" filter="url(#bl1)"/>
<ellipse cx="208.5" cy="260.0" rx="5.5" ry="4.5" fill="#d8f030" opacity="1" filter="url(#bl1)"/>
<ellipse cx="211.5" cy="236.5" rx="2.6" ry="2.4" fill="#e81010" opacity="1" filter="url(#bl1)"/>
<ellipse cx="209.6" cy="244.0" rx="4.2" ry="4.5" fill="#f0e020" opacity="1" filter="url(#bl1)"/>
<ellipse cx="209.0" cy="243.5" rx="3.2" ry="3.2" fill="#e81010" opacity="1" filter="url(#bl1)"/>
<ellipse cx="212.0" cy="249.0" rx="2.5" ry="2" fill="#f0d020" opacity="1" filter="url(#bl1)"/>
<ellipse cx="210.0" cy="253.5" rx="3" ry="1.8" fill="#f0f0f0" opacity="0.9" filter="url(#bl1)"/>
<ellipse cx="207.5" cy="261.0" rx="4.2" ry="3.6" fill="#e81010" opacity="1" filter="url(#bl1)"/>
<ellipse cx="212.5" cy="259.0" rx="2" ry="2" fill="#f0d020" opacity="1" filter="url(#bl1)"/>
<path d="M271.1,234.2 Q271.6,233.5 272.1,234.2 Q272.6,234.8 273.3,236.1 Q273.9,237.4 274.6,239.4 Q275.3,241.3 276.0,243.7 Q276.6,246.2 277.1,248.6 Q277.6,251.1 277.9,253.7 Q278.2,256.2 278.3,258.5 Q278.5,260.8 278.4,262.1 Q278.2,263.4 277.7,264.2 Q277.1,265.0 274.4,265.5 Q271.6,266.0 268.8,265.5 Q266.1,265.0 265.5,264.2 Q265.0,263.4 264.8,262.1 Q264.7,260.8 264.9,258.5 Q265.0,256.2 265.3,253.7 Q265.6,251.1 266.1,248.6 Q266.6,246.2 267.2,243.7 Q267.9,241.3 268.6,239.4 Q269.3,237.4 269.9,236.1 Q270.6,234.8 271.1,234.2Z" fill="#2a40e0"/>
<path d="M271.2,235.6 Q271.6,235.0 272.0,235.6 Q272.4,236.2 273.0,237.4 Q273.6,238.6 274.2,240.4 Q274.8,242.2 275.4,244.4 Q276.0,246.7 276.4,248.9 Q276.8,251.2 277.1,253.6 Q277.3,256.0 277.5,258.1 Q277.6,260.2 277.5,261.4 Q277.4,262.6 276.9,263.4 Q276.4,264.1 274.0,264.6 Q271.6,265.0 269.2,264.6 Q266.8,264.1 266.3,263.4 Q265.8,262.6 265.7,261.4 Q265.6,260.2 265.8,258.1 Q265.9,256.0 266.1,253.6 Q266.4,251.2 266.8,248.9 Q267.2,246.7 267.8,244.4 Q268.4,242.2 269.0,240.4 Q269.6,238.6 270.2,237.4 Q270.8,236.2 271.2,235.6Z" fill="#50d8c0" filter="url(#bl1)"/>
<ellipse cx="271.8" cy="246.0" rx="4.5" ry="8" fill="#c0f040" opacity="1" filter="url(#bl1)"/>
<ellipse cx="272.0" cy="242.5" rx="3.5" ry="3.2" fill="#f0d020" opacity="1" filter="url(#bl1)"/>
<ellipse cx="272.0" cy="242.5" rx="2" ry="2" fill="#e81010" opacity="1" filter="url(#bl1)"/>
<ellipse cx="271.0" cy="253.0" rx="3.2" ry="3" fill="#f0e020" opacity="1" filter="url(#bl1)"/>
<ellipse cx="271.0" cy="253.0" rx="1.7" ry="1.7" fill="#e81010" opacity="1" filter="url(#bl1)"/>
<ellipse cx="271.6" cy="236.0" rx="1.6" ry="1.6" fill="#f0d020" opacity="1" filter="url(#bl1)"/>
<ellipse cx="269.0" cy="259.0" rx="2" ry="2" fill="#2a40e6" opacity="1" filter="url(#bl1)"/>
<ellipse cx="274.0" cy="261.0" rx="1.8" ry="1.8" fill="#f0f0f0" opacity="0.8" filter="url(#bl1)"/>
<ellipse cx="225.3" cy="234.5" rx="1.5" ry="1.5" fill="#2a40e6" opacity="1" filter="url(#bl1)"/>
<ellipse cx="227.0" cy="245.0" rx="2" ry="2" fill="#30c0c0" opacity="1" filter="url(#bl1)"/>
<ellipse cx="223.0" cy="252.0" rx="1.6" ry="1.6" fill="#2a40e6" opacity="1" filter="url(#bl1)"/>
<ellipse cx="228.0" cy="259.0" rx="2.2" ry="2.2" fill="#2a40e6" opacity="1" filter="url(#bl1)"/>
<ellipse cx="241.0" cy="260.0" rx="2.5" ry="2.5" fill="#30b0c0" opacity="1" filter="url(#bl1)"/>
<ellipse cx="238.0" cy="253.0" rx="1.5" ry="1.5" fill="#2a40e6" opacity="1" filter="url(#bl1)"/>
<ellipse cx="243.0" cy="246.0" rx="1.5" ry="1.5" fill="#2a40e6" opacity="1" filter="url(#bl1)"/>
<ellipse cx="254.0" cy="259.0" rx="2" ry="3" fill="#2a40e6" opacity="1" filter="url(#bl1)"/>
<ellipse cx="258.0" cy="264.0" rx="2" ry="1.6" fill="#2a40e6" opacity="1" filter="url(#bl1)"/>
<rect x="198" y="228" width="86" height="5" fill="#2a30e0" opacity="0.85" filter="url(#bl1)"/>
</g></g>
<line x1="366.8" y1="63.5" x2="366.8" y2="290.18" stroke="#000" stroke-width="1.6"/>
<line x1="362.0" y1="289.48" x2="366.8" y2="289.48" stroke="#000" stroke-width="1.5"/>
<line x1="364.3" y1="279.96" x2="366.8" y2="279.96" stroke="#000" stroke-width="1"/>
<line x1="364.3" y1="274.38" x2="366.8" y2="274.38" stroke="#000" stroke-width="1"/>
<line x1="364.3" y1="270.43" x2="366.8" y2="270.43" stroke="#000" stroke-width="1"/>
<line x1="364.3" y1="267.36" x2="366.8" y2="267.36" stroke="#000" stroke-width="1"/>
<line x1="364.3" y1="264.86" x2="366.8" y2="264.86" stroke="#000" stroke-width="1"/>
<line x1="364.3" y1="262.74" x2="366.8" y2="262.74" stroke="#000" stroke-width="1"/>
<line x1="364.3" y1="260.91" x2="366.8" y2="260.91" stroke="#000" stroke-width="1"/>
<line x1="364.3" y1="259.29" x2="366.8" y2="259.29" stroke="#000" stroke-width="1"/>
<text x="357.3" y="294.4" font-size="10.8" fill="#333" text-anchor="end">10<tspan font-size="7.6" dy="-5.2" letter-spacing="0.6">4</tspan></text>
<line x1="362.0" y1="257.84" x2="366.8" y2="257.84" stroke="#000" stroke-width="1.5"/>
<line x1="364.3" y1="248.32" x2="366.8" y2="248.32" stroke="#000" stroke-width="1"/>
<line x1="364.3" y1="242.74" x2="366.8" y2="242.74" stroke="#000" stroke-width="1"/>
<line x1="364.3" y1="238.79" x2="366.8" y2="238.79" stroke="#000" stroke-width="1"/>
<line x1="364.3" y1="235.72" x2="366.8" y2="235.72" stroke="#000" stroke-width="1"/>
<line x1="364.3" y1="233.22" x2="366.8" y2="233.22" stroke="#000" stroke-width="1"/>
<line x1="364.3" y1="231.10" x2="366.8" y2="231.10" stroke="#000" stroke-width="1"/>
<line x1="364.3" y1="229.27" x2="366.8" y2="229.27" stroke="#000" stroke-width="1"/>
<line x1="364.3" y1="227.65" x2="366.8" y2="227.65" stroke="#000" stroke-width="1"/>
<text x="357.3" y="262.7" font-size="10.8" fill="#333" text-anchor="end">10<tspan font-size="7.6" dy="-5.2" letter-spacing="0.6">5</tspan></text>
<line x1="362.0" y1="226.20" x2="366.8" y2="226.20" stroke="#000" stroke-width="1.5"/>
<line x1="364.3" y1="216.68" x2="366.8" y2="216.68" stroke="#000" stroke-width="1"/>
<line x1="364.3" y1="211.10" x2="366.8" y2="211.10" stroke="#000" stroke-width="1"/>
<line x1="364.3" y1="207.15" x2="366.8" y2="207.15" stroke="#000" stroke-width="1"/>
<line x1="364.3" y1="204.08" x2="366.8" y2="204.08" stroke="#000" stroke-width="1"/>
<line x1="364.3" y1="201.58" x2="366.8" y2="201.58" stroke="#000" stroke-width="1"/>
<line x1="364.3" y1="199.46" x2="366.8" y2="199.46" stroke="#000" stroke-width="1"/>
<line x1="364.3" y1="197.63" x2="366.8" y2="197.63" stroke="#000" stroke-width="1"/>
<line x1="364.3" y1="196.01" x2="366.8" y2="196.01" stroke="#000" stroke-width="1"/>
<text x="357.3" y="231.1" font-size="10.8" fill="#333" text-anchor="end">10<tspan font-size="7.6" dy="-5.2" letter-spacing="0.6">6</tspan></text>
<line x1="362.0" y1="194.56" x2="366.8" y2="194.56" stroke="#000" stroke-width="1.5"/>
<line x1="364.3" y1="185.04" x2="366.8" y2="185.04" stroke="#000" stroke-width="1"/>
<line x1="364.3" y1="179.46" x2="366.8" y2="179.46" stroke="#000" stroke-width="1"/>
<line x1="364.3" y1="175.51" x2="366.8" y2="175.51" stroke="#000" stroke-width="1"/>
<line x1="364.3" y1="172.44" x2="366.8" y2="172.44" stroke="#000" stroke-width="1"/>
<line x1="364.3" y1="169.94" x2="366.8" y2="169.94" stroke="#000" stroke-width="1"/>
<line x1="364.3" y1="167.82" x2="366.8" y2="167.82" stroke="#000" stroke-width="1"/>
<line x1="364.3" y1="165.99" x2="366.8" y2="165.99" stroke="#000" stroke-width="1"/>
<line x1="364.3" y1="164.37" x2="366.8" y2="164.37" stroke="#000" stroke-width="1"/>
<text x="357.3" y="199.5" font-size="10.8" fill="#333" text-anchor="end">10<tspan font-size="7.6" dy="-5.2" letter-spacing="0.6">7</tspan></text>
<line x1="362.0" y1="162.92" x2="366.8" y2="162.92" stroke="#000" stroke-width="1.5"/>
<line x1="364.3" y1="153.40" x2="366.8" y2="153.40" stroke="#000" stroke-width="1"/>
<line x1="364.3" y1="147.82" x2="366.8" y2="147.82" stroke="#000" stroke-width="1"/>
<line x1="364.3" y1="143.87" x2="366.8" y2="143.87" stroke="#000" stroke-width="1"/>
<line x1="364.3" y1="140.80" x2="366.8" y2="140.80" stroke="#000" stroke-width="1"/>
<line x1="364.3" y1="138.30" x2="366.8" y2="138.30" stroke="#000" stroke-width="1"/>
<line x1="364.3" y1="136.18" x2="366.8" y2="136.18" stroke="#000" stroke-width="1"/>
<line x1="364.3" y1="134.35" x2="366.8" y2="134.35" stroke="#000" stroke-width="1"/>
<line x1="364.3" y1="132.73" x2="366.8" y2="132.73" stroke="#000" stroke-width="1"/>
<text x="357.3" y="167.8" font-size="10.8" fill="#333" text-anchor="end">10<tspan font-size="7.6" dy="-5.2" letter-spacing="0.6">8</tspan></text>
<line x1="362.0" y1="131.28" x2="366.8" y2="131.28" stroke="#000" stroke-width="1.5"/>
<line x1="364.3" y1="121.76" x2="366.8" y2="121.76" stroke="#000" stroke-width="1"/>
<line x1="364.3" y1="116.18" x2="366.8" y2="116.18" stroke="#000" stroke-width="1"/>
<line x1="364.3" y1="112.23" x2="366.8" y2="112.23" stroke="#000" stroke-width="1"/>
<line x1="364.3" y1="109.16" x2="366.8" y2="109.16" stroke="#000" stroke-width="1"/>
<line x1="364.3" y1="106.66" x2="366.8" y2="106.66" stroke="#000" stroke-width="1"/>
<line x1="364.3" y1="104.54" x2="366.8" y2="104.54" stroke="#000" stroke-width="1"/>
<line x1="364.3" y1="102.71" x2="366.8" y2="102.71" stroke="#000" stroke-width="1"/>
<line x1="364.3" y1="101.09" x2="366.8" y2="101.09" stroke="#000" stroke-width="1"/>
<text x="357.3" y="136.2" font-size="10.8" fill="#333" text-anchor="end">10<tspan font-size="7.6" dy="-5.2" letter-spacing="0.6">9</tspan></text>
<line x1="362.0" y1="99.64" x2="366.8" y2="99.64" stroke="#000" stroke-width="1.5"/>
<line x1="364.3" y1="90.12" x2="366.8" y2="90.12" stroke="#000" stroke-width="1"/>
<line x1="364.3" y1="84.54" x2="366.8" y2="84.54" stroke="#000" stroke-width="1"/>
<line x1="364.3" y1="80.59" x2="366.8" y2="80.59" stroke="#000" stroke-width="1"/>
<line x1="364.3" y1="77.52" x2="366.8" y2="77.52" stroke="#000" stroke-width="1"/>
<line x1="364.3" y1="75.02" x2="366.8" y2="75.02" stroke="#000" stroke-width="1"/>
<line x1="364.3" y1="72.90" x2="366.8" y2="72.90" stroke="#000" stroke-width="1"/>
<line x1="364.3" y1="71.07" x2="366.8" y2="71.07" stroke="#000" stroke-width="1"/>
<line x1="364.3" y1="69.45" x2="366.8" y2="69.45" stroke="#000" stroke-width="1"/>
<text x="357.3" y="104.5" font-size="10.8" fill="#333" text-anchor="end">10<tspan font-size="7.6" dy="-5.2" letter-spacing="0.6">10</tspan></text>
<line x1="362.0" y1="68.00" x2="366.8" y2="68.00" stroke="#000" stroke-width="1.5"/>
<text x="357.3" y="72.9" font-size="10.8" fill="#333" text-anchor="end">10<tspan font-size="7.6" dy="-5.2" letter-spacing="0.6">11</tspan></text>
<line x1="362.0" y1="289.48" x2="504.8" y2="289.48" stroke="#000" stroke-width="1.6"/>
<line x1="366.80" y1="289.48" x2="366.80" y2="293.98" stroke="#000" stroke-width="1.3"/>
<line x1="375.80" y1="289.48" x2="375.80" y2="291.78" stroke="#000" stroke-width="1.3"/>
<line x1="384.80" y1="289.48" x2="384.80" y2="291.78" stroke="#000" stroke-width="1.3"/>
<line x1="393.80" y1="289.48" x2="393.80" y2="291.78" stroke="#000" stroke-width="1.3"/>
<line x1="402.80" y1="289.48" x2="402.80" y2="291.78" stroke="#000" stroke-width="1.3"/>
<line x1="411.80" y1="289.48" x2="411.80" y2="293.98" stroke="#000" stroke-width="1.3"/>
<line x1="420.80" y1="289.48" x2="420.80" y2="291.78" stroke="#000" stroke-width="1.3"/>
<line x1="429.80" y1="289.48" x2="429.80" y2="291.78" stroke="#000" stroke-width="1.3"/>
<line x1="438.80" y1="289.48" x2="438.80" y2="291.78" stroke="#000" stroke-width="1.3"/>
<line x1="447.80" y1="289.48" x2="447.80" y2="291.78" stroke="#000" stroke-width="1.3"/>
<line x1="456.80" y1="289.48" x2="456.80" y2="293.98" stroke="#000" stroke-width="1.3"/>
<line x1="465.80" y1="289.48" x2="465.80" y2="291.78" stroke="#000" stroke-width="1.3"/>
<line x1="474.80" y1="289.48" x2="474.80" y2="291.78" stroke="#000" stroke-width="1.3"/>
<line x1="483.80" y1="289.48" x2="483.80" y2="291.78" stroke="#000" stroke-width="1.3"/>
<line x1="492.80" y1="289.48" x2="492.80" y2="291.78" stroke="#000" stroke-width="1.3"/>
<line x1="501.80" y1="289.48" x2="501.80" y2="293.98" stroke="#000" stroke-width="1.3"/>
<text x="367.4" y="307.7" font-size="10.8" fill="#333" text-anchor="middle" letter-spacing="0.6">0</text>
<text x="412.4" y="307.7" font-size="10.8" fill="#333" text-anchor="middle" letter-spacing="0.6">10</text>
<text x="457.4" y="307.7" font-size="10.8" fill="#333" text-anchor="middle" letter-spacing="0.6">20</text>
<text x="502.4" y="307.7" font-size="10.8" fill="#333" text-anchor="middle" letter-spacing="0.6">30</text>
<text x="0" y="0" transform="translate(370.3,323.8) scale(0.727,1)" font-size="13" font-weight="bold" fill="#383838">Days after MOLM-13 injection</text>
<text x="0" y="0" transform="translate(326.6,232) rotate(-90) scale(0.684,1)" font-size="13.5" font-weight="bold" fill="#444">Total area flux (photons)</text>
<line x1="425.2" y1="174.0" x2="425.2" y2="170.8" stroke="#e2a133" stroke-width="1.3"/><line x1="422.8" y1="170.8" x2="427.59999999999997" y2="170.8" stroke="#e2a133" stroke-width="1.3"/>
<line x1="456.5" y1="173.3" x2="456.5" y2="165.6" stroke="#e2a133" stroke-width="1.3"/><line x1="454.1" y1="165.6" x2="458.9" y2="165.6" stroke="#e2a133" stroke-width="1.3"/>
<line x1="483.6" y1="178.6" x2="483.6" y2="169.8" stroke="#e2a133" stroke-width="1.3"/><line x1="481.20000000000005" y1="169.8" x2="486.0" y2="169.8" stroke="#e2a133" stroke-width="1.3"/>
<line x1="456.5" y1="183.2" x2="456.5" y2="178.6" stroke="#a8123a" stroke-width="1.3"/><line x1="454.1" y1="178.6" x2="458.9" y2="178.6" stroke="#a8123a" stroke-width="1.3"/>
<line x1="483.6" y1="197.3" x2="483.6" y2="190.3" stroke="#a8123a" stroke-width="1.3"/><line x1="481.20000000000005" y1="190.3" x2="486.0" y2="190.3" stroke="#a8123a" stroke-width="1.3"/>
<polyline points="393.7,198.5 425.2,174.0 456.5,173.3 483.6,178.6" fill="none" stroke="#e2a133" stroke-width="2.0" stroke-linejoin="round"/>
<polyline points="393.7,201.2 425.2,199.6 456.5,183.2 483.6,197.3" fill="none" stroke="#a8123a" stroke-width="2.0" stroke-linejoin="round"/>
<polyline points="393.7,196.7 425.2,149.9 456.5,110.9 483.6,98.9" fill="none" stroke="#2b4876" stroke-width="2.0" stroke-linejoin="round"/>
<path d="M393.7,195.7 L396.5,200.5 L390.9,200.5 Z" fill="#e2a133"/>
<path d="M425.2,171.2 L428.0,176.0 L422.4,176.0 Z" fill="#e2a133"/>
<path d="M456.5,170.5 L459.3,175.3 L453.7,175.3 Z" fill="#e2a133"/>
<path d="M483.6,175.79999999999998 L486.40000000000003,180.6 L480.8,180.6 Z" fill="#e2a133"/>
<rect x="391.4" y="198.89999999999998" width="4.6" height="4.6" fill="#a8123a"/>
<rect x="422.9" y="197.29999999999998" width="4.6" height="4.6" fill="#a8123a"/>
<rect x="454.2" y="180.89999999999998" width="4.6" height="4.6" fill="#a8123a"/>
<rect x="481.3" y="195.0" width="4.6" height="4.6" fill="#a8123a"/>
<circle cx="393.7" cy="196.7" r="2.6" fill="#2b4876"/>
<circle cx="425.2" cy="149.9" r="2.6" fill="#2b4876"/>
<circle cx="456.5" cy="110.9" r="2.6" fill="#2b4876"/>
<circle cx="483.6" cy="98.9" r="2.6" fill="#2b4876"/>
<path d="M394.0,255.0 L396.8,260.3 L391.2,260.3 Z" fill="#6f9e50"/>
<path d="M403.0,255.0 L405.8,260.3 L400.2,260.3 Z" fill="#6f9e50"/>
<path d="M421.0,255.0 L423.8,260.3 L418.2,260.3 Z" fill="#6f9e50"/>
<path d="M434.5,255.0 L437.3,260.3 L431.7,260.3 Z" fill="#6f9e50"/>
<path d="M452.5,255.0 L455.3,260.3 L449.7,260.3 Z" fill="#6f9e50"/>
<path d="M466.0,255.0 L468.8,260.3 L463.2,260.3 Z" fill="#6f9e50"/>
<path d="M484.0,255.0 L486.8,260.3 L481.2,260.3 Z" fill="#6f9e50"/>
<path d="M497.5,255.0 L500.3,260.3 L494.7,260.3 Z" fill="#6f9e50"/>
<path d="M398.5,260.6 L401.2,255.3 L395.8,255.3 Z" fill="#3b1f52"/>
<path d="M430.0,260.6 L432.7,255.3 L427.3,255.3 Z" fill="#3b1f52"/>
<path d="M461.5,260.6 L464.2,255.3 L458.8,255.3 Z" fill="#3b1f52"/>
<line x1="372.4" y1="28.2" x2="385.4" y2="28.2" stroke="#2b4876" stroke-width="1.6"/><circle cx="378.9" cy="28.2" r="2.7" fill="#2b4876"/>
<line x1="372.4" y1="43.6" x2="385.4" y2="43.6" stroke="#e2a133" stroke-width="1.6"/><path d="M378.9,40.6 L382.2,45.6 L375.6,45.6 Z" fill="#e2a133"/>
<line x1="372.4" y1="58.9" x2="385.4" y2="58.9" stroke="#a8123a" stroke-width="1.6"/><rect x="376.2" y="56.199999999999996" width="5.4" height="5.4" fill="#a8123a"/>
<path d="M379.3,77.5 L382.2,72.3 L376.4,72.3 Z" fill="#3b1f52"/>
<path d="M379.3,87.6 L382.2,92.8 L376.4,92.8 Z" fill="#6f9e50"/>
<text x="388.7" y="31.9" font-size="10.5" fill="#333" letter-spacing="0.05">IL2-only</text>
<text x="388.7" y="46.5" font-size="10.5" fill="#333" letter-spacing="0.45">ATC/BC133</text>
<text x="388.7" y="61.9" font-size="10.5" fill="#333" letter-spacing="0.55">ATC/BC133 + IL2</text>
<text x="388.7" y="77.8" font-size="10.5" fill="#333" letter-spacing="0.1">ATC injection</text>
<text x="388.7" y="93.2" font-size="10.5" fill="#333" letter-spacing="0.4">BC133 injection</text>
</svg>
</body></html>
